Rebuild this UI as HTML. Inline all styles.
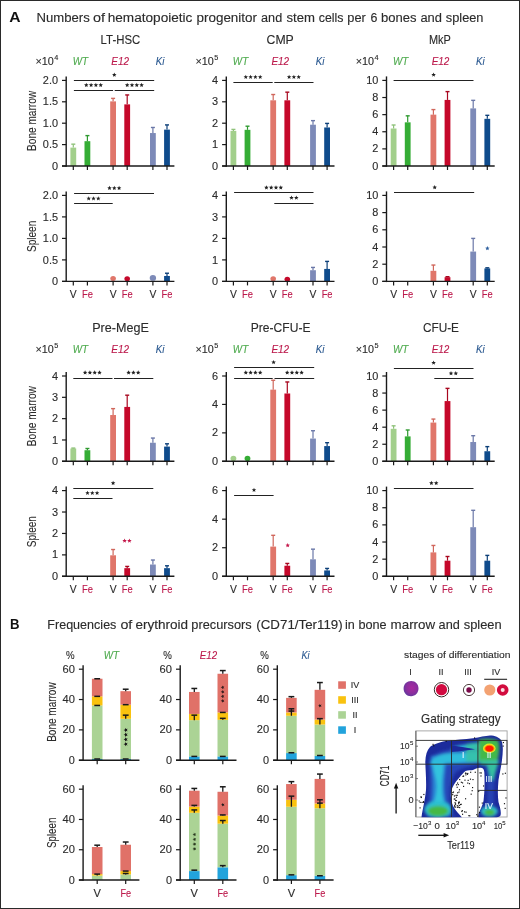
<!DOCTYPE html>
<html><head><meta charset="utf-8"><title>Figure</title>
<style>
html,body{margin:0;padding:0;background:#fff;}
body{width:520px;height:909px;overflow:hidden;font-family:"Liberation Sans",sans-serif;}
svg{display:block;will-change:transform;}
text{font-family:"Liberation Sans",sans-serif;}
</style></head><body>
<svg width="520" height="909" viewBox="0 0 520 909" font-family="&quot;Liberation Sans&quot;, sans-serif">
<rect x="0" y="0" width="520" height="909" fill="#ffffff"/>
<text x="9.20" y="22.00" font-size="14.2" fill="#111" font-weight="bold" textLength="11.30" lengthAdjust="spacingAndGlyphs">A</text>
<text x="36.50" y="21.80" font-size="12.3" fill="#2b2b2b" stroke="#2b2b2b" stroke-width="0.12" textLength="53.20" lengthAdjust="spacingAndGlyphs">Numbers</text>
<text x="93.10" y="21.80" font-size="12.3" fill="#2b2b2b" stroke="#2b2b2b" stroke-width="0.12" textLength="12.00" lengthAdjust="spacingAndGlyphs">of</text>
<text x="107.70" y="21.80" font-size="12.3" fill="#2b2b2b" stroke="#2b2b2b" stroke-width="0.12" textLength="84.70" lengthAdjust="spacingAndGlyphs">hematopoietic</text>
<text x="196.50" y="21.80" font-size="12.3" fill="#2b2b2b" stroke="#2b2b2b" stroke-width="0.12" textLength="60.50" lengthAdjust="spacingAndGlyphs">progenitor</text>
<text x="261.10" y="21.80" font-size="12.3" fill="#2b2b2b" stroke="#2b2b2b" stroke-width="0.12" textLength="21.10" lengthAdjust="spacingAndGlyphs">and</text>
<text x="286.50" y="21.80" font-size="12.3" fill="#2b2b2b" stroke="#2b2b2b" stroke-width="0.12" textLength="28.50" lengthAdjust="spacingAndGlyphs">stem</text>
<text x="318.80" y="21.80" font-size="12.3" fill="#2b2b2b" stroke="#2b2b2b" stroke-width="0.12" textLength="24.70" lengthAdjust="spacingAndGlyphs">cells</text>
<text x="347.30" y="21.80" font-size="12.3" fill="#2b2b2b" stroke="#2b2b2b" stroke-width="0.12" textLength="18.50" lengthAdjust="spacingAndGlyphs">per</text>
<text x="370.40" y="21.80" font-size="12.3" fill="#2b2b2b" stroke="#2b2b2b" stroke-width="0.12" textLength="6.90" lengthAdjust="spacingAndGlyphs">6</text>
<text x="381.10" y="21.80" font-size="12.3" fill="#2b2b2b" stroke="#2b2b2b" stroke-width="0.12" textLength="35.50" lengthAdjust="spacingAndGlyphs">bones</text>
<text x="420.40" y="21.80" font-size="12.3" fill="#2b2b2b" stroke="#2b2b2b" stroke-width="0.12" textLength="21.50" lengthAdjust="spacingAndGlyphs">and</text>
<text x="445.80" y="21.80" font-size="12.3" fill="#2b2b2b" stroke="#2b2b2b" stroke-width="0.12" textLength="37.70" lengthAdjust="spacingAndGlyphs">spleen</text>
<text x="100.60" y="43.90" font-size="12.2" fill="#2b2b2b" stroke="#2b2b2b" stroke-width="0.12" textLength="39.60" lengthAdjust="spacingAndGlyphs">LT-HSC</text>
<text x="35.40" y="64.50" font-size="10.8" fill="#2b2b2b" stroke="#2b2b2b" stroke-width="0.12" textLength="18.30" lengthAdjust="spacingAndGlyphs">&#215;10</text>
<text x="54.20" y="59.80" font-size="7.3" fill="#2b2b2b" stroke="#2b2b2b" stroke-width="0.12">4</text>
<text x="80.40" y="64.50" font-size="10.3" fill="#4fab4f" stroke="#4fab4f" stroke-width="0.12" text-anchor="middle" font-style="italic" textLength="15.30" lengthAdjust="spacingAndGlyphs">WT</text>
<text x="120.20" y="64.50" font-size="10.3" fill="#bc1a4c" stroke="#bc1a4c" stroke-width="0.12" text-anchor="middle" font-style="italic" textLength="17.70" lengthAdjust="spacingAndGlyphs">E12</text>
<text x="160.00" y="64.50" font-size="10.3" fill="#2a5890" stroke="#2a5890" stroke-width="0.12" text-anchor="middle" font-style="italic" textLength="8.60" lengthAdjust="spacingAndGlyphs">Ki</text>
<rect x="70.40" y="147.60" width="5.80" height="18.40" fill="#a2cf8b"/>
<line x1="73.30" y1="147.60" x2="73.30" y2="144.17" stroke="#8fc27a" stroke-width="1.2"/>
<line x1="71.30" y1="144.17" x2="75.30" y2="144.17" stroke="#8fc27a" stroke-width="1.4"/>
<rect x="84.50" y="141.18" width="5.80" height="24.82" fill="#35ad35"/>
<line x1="87.40" y1="141.18" x2="87.40" y2="135.61" stroke="#2f9a30" stroke-width="1.2"/>
<line x1="85.40" y1="135.61" x2="89.40" y2="135.61" stroke="#2f9a30" stroke-width="1.4"/>
<rect x="110.20" y="101.37" width="5.80" height="64.63" fill="#e0766a"/>
<line x1="113.10" y1="101.37" x2="113.10" y2="98.38" stroke="#d0675c" stroke-width="1.2"/>
<line x1="111.10" y1="98.38" x2="115.10" y2="98.38" stroke="#d0675c" stroke-width="1.4"/>
<rect x="124.30" y="104.37" width="5.80" height="61.63" fill="#c5082a"/>
<line x1="127.20" y1="104.37" x2="127.20" y2="94.95" stroke="#a8071f" stroke-width="1.2"/>
<line x1="125.20" y1="94.95" x2="129.20" y2="94.95" stroke="#a8071f" stroke-width="1.4"/>
<rect x="150.00" y="133.04" width="5.80" height="32.96" fill="#7d8ab8"/>
<line x1="152.90" y1="133.04" x2="152.90" y2="127.48" stroke="#6b78a8" stroke-width="1.2"/>
<line x1="150.90" y1="127.48" x2="154.90" y2="127.48" stroke="#6b78a8" stroke-width="1.4"/>
<rect x="164.10" y="129.62" width="5.80" height="36.38" fill="#0f4b8c"/>
<line x1="167.00" y1="129.62" x2="167.00" y2="124.91" stroke="#0c3f78" stroke-width="1.2"/>
<line x1="165.00" y1="124.91" x2="169.00" y2="124.91" stroke="#0c3f78" stroke-width="1.4"/>
<line x1="66.20" y1="76.40" x2="66.20" y2="166.70" stroke="#1a1a1a" stroke-width="1.4"/>
<line x1="62.00" y1="166.00" x2="174.40" y2="166.00" stroke="#1a1a1a" stroke-width="1.4"/>
<line x1="73.30" y1="166.00" x2="73.30" y2="170.00" stroke="#1a1a1a" stroke-width="1.2"/>
<line x1="87.40" y1="166.00" x2="87.40" y2="170.00" stroke="#1a1a1a" stroke-width="1.2"/>
<line x1="113.10" y1="166.00" x2="113.10" y2="170.00" stroke="#1a1a1a" stroke-width="1.2"/>
<line x1="127.20" y1="166.00" x2="127.20" y2="170.00" stroke="#1a1a1a" stroke-width="1.2"/>
<line x1="152.90" y1="166.00" x2="152.90" y2="170.00" stroke="#1a1a1a" stroke-width="1.2"/>
<line x1="167.00" y1="166.00" x2="167.00" y2="170.00" stroke="#1a1a1a" stroke-width="1.2"/>
<line x1="62.00" y1="166.00" x2="66.20" y2="166.00" stroke="#1a1a1a" stroke-width="1.2"/>
<text x="58.00" y="169.60" font-size="10.9" fill="#2b2b2b" stroke="#2b2b2b" stroke-width="0.12" text-anchor="end">0</text>
<line x1="62.00" y1="144.60" x2="66.20" y2="144.60" stroke="#1a1a1a" stroke-width="1.2"/>
<text x="58.00" y="148.20" font-size="10.9" fill="#2b2b2b" stroke="#2b2b2b" stroke-width="0.12" text-anchor="end">0.5</text>
<line x1="62.00" y1="123.20" x2="66.20" y2="123.20" stroke="#1a1a1a" stroke-width="1.2"/>
<text x="58.00" y="126.80" font-size="10.9" fill="#2b2b2b" stroke="#2b2b2b" stroke-width="0.12" text-anchor="end">1.0</text>
<line x1="62.00" y1="101.80" x2="66.20" y2="101.80" stroke="#1a1a1a" stroke-width="1.2"/>
<text x="58.00" y="105.40" font-size="10.9" fill="#2b2b2b" stroke="#2b2b2b" stroke-width="0.12" text-anchor="end">1.5</text>
<line x1="62.00" y1="80.40" x2="66.20" y2="80.40" stroke="#1a1a1a" stroke-width="1.2"/>
<text x="58.00" y="84.00" font-size="10.9" fill="#2b2b2b" stroke="#2b2b2b" stroke-width="0.12" text-anchor="end">2.0</text>
<line x1="73.90" y1="80.50" x2="154.20" y2="80.50" stroke="#222" stroke-width="1.0"/>
<polygon points="114.30,72.55 114.92,74.04 116.53,74.17 115.31,75.23 115.68,76.80 114.30,75.96 112.92,76.80 113.29,75.23 112.07,74.17 113.68,74.04" fill="#222"/>
<line x1="73.90" y1="90.50" x2="113.10" y2="90.50" stroke="#222" stroke-width="1.0"/>
<polygon points="86.30,82.75 86.92,84.24 88.53,84.37 87.31,85.43 87.68,87.00 86.30,86.16 84.92,87.00 85.29,85.43 84.07,84.37 85.68,84.24" fill="#222"/>
<polygon points="91.10,82.75 91.72,84.24 93.33,84.37 92.11,85.43 92.48,87.00 91.10,86.16 89.72,87.00 90.09,85.43 88.87,84.37 90.48,84.24" fill="#222"/>
<polygon points="95.90,82.75 96.52,84.24 98.13,84.37 96.91,85.43 97.28,87.00 95.90,86.16 94.52,87.00 94.89,85.43 93.67,84.37 95.28,84.24" fill="#222"/>
<polygon points="100.70,82.75 101.32,84.24 102.93,84.37 101.71,85.43 102.08,87.00 100.70,86.16 99.32,87.00 99.69,85.43 98.47,84.37 100.08,84.24" fill="#222"/>
<line x1="114.70" y1="90.50" x2="154.20" y2="90.50" stroke="#222" stroke-width="1.0"/>
<polygon points="127.20,82.75 127.82,84.24 129.43,84.37 128.21,85.43 128.58,87.00 127.20,86.16 125.82,87.00 126.19,85.43 124.97,84.37 126.58,84.24" fill="#222"/>
<polygon points="132.00,82.75 132.62,84.24 134.23,84.37 133.01,85.43 133.38,87.00 132.00,86.16 130.62,87.00 130.99,85.43 129.77,84.37 131.38,84.24" fill="#222"/>
<polygon points="136.80,82.75 137.42,84.24 139.03,84.37 137.81,85.43 138.18,87.00 136.80,86.16 135.42,87.00 135.79,85.43 134.57,84.37 136.18,84.24" fill="#222"/>
<polygon points="141.60,82.75 142.22,84.24 143.83,84.37 142.61,85.43 142.98,87.00 141.60,86.16 140.22,87.00 140.59,85.43 139.37,84.37 140.98,84.24" fill="#222"/>
<ellipse cx="113.10" cy="278.56" rx="2.80" ry="2.50" fill="#e0766a"/>
<ellipse cx="127.20" cy="278.82" rx="2.80" ry="2.50" fill="#c5082a"/>
<ellipse cx="152.90" cy="277.96" rx="3.20" ry="2.90" fill="#7d8ab8"/>
<rect x="164.10" y="275.98" width="5.80" height="5.42" fill="#0f4b8c"/>
<line x1="167.00" y1="275.98" x2="167.00" y2="273.23" stroke="#0c3f78" stroke-width="1.2"/>
<line x1="165.00" y1="273.23" x2="169.00" y2="273.23" stroke="#0c3f78" stroke-width="1.4"/>
<line x1="66.20" y1="191.40" x2="66.20" y2="282.10" stroke="#1a1a1a" stroke-width="1.4"/>
<line x1="62.00" y1="281.40" x2="174.40" y2="281.40" stroke="#1a1a1a" stroke-width="1.4"/>
<line x1="73.30" y1="281.40" x2="73.30" y2="285.40" stroke="#1a1a1a" stroke-width="1.2"/>
<line x1="87.40" y1="281.40" x2="87.40" y2="285.40" stroke="#1a1a1a" stroke-width="1.2"/>
<line x1="113.10" y1="281.40" x2="113.10" y2="285.40" stroke="#1a1a1a" stroke-width="1.2"/>
<line x1="127.20" y1="281.40" x2="127.20" y2="285.40" stroke="#1a1a1a" stroke-width="1.2"/>
<line x1="152.90" y1="281.40" x2="152.90" y2="285.40" stroke="#1a1a1a" stroke-width="1.2"/>
<line x1="167.00" y1="281.40" x2="167.00" y2="285.40" stroke="#1a1a1a" stroke-width="1.2"/>
<line x1="62.00" y1="281.40" x2="66.20" y2="281.40" stroke="#1a1a1a" stroke-width="1.2"/>
<text x="58.00" y="285.00" font-size="10.9" fill="#2b2b2b" stroke="#2b2b2b" stroke-width="0.12" text-anchor="end">0</text>
<line x1="62.00" y1="259.90" x2="66.20" y2="259.90" stroke="#1a1a1a" stroke-width="1.2"/>
<text x="58.00" y="263.50" font-size="10.9" fill="#2b2b2b" stroke="#2b2b2b" stroke-width="0.12" text-anchor="end">0.5</text>
<line x1="62.00" y1="238.40" x2="66.20" y2="238.40" stroke="#1a1a1a" stroke-width="1.2"/>
<text x="58.00" y="242.00" font-size="10.9" fill="#2b2b2b" stroke="#2b2b2b" stroke-width="0.12" text-anchor="end">1.0</text>
<line x1="62.00" y1="216.90" x2="66.20" y2="216.90" stroke="#1a1a1a" stroke-width="1.2"/>
<text x="58.00" y="220.50" font-size="10.9" fill="#2b2b2b" stroke="#2b2b2b" stroke-width="0.12" text-anchor="end">1.5</text>
<line x1="62.00" y1="195.40" x2="66.20" y2="195.40" stroke="#1a1a1a" stroke-width="1.2"/>
<text x="58.00" y="199.00" font-size="10.9" fill="#2b2b2b" stroke="#2b2b2b" stroke-width="0.12" text-anchor="end">2.0</text>
<line x1="74.10" y1="193.50" x2="154.00" y2="193.50" stroke="#222" stroke-width="1.0"/>
<polygon points="109.50,185.85 110.12,187.34 111.73,187.47 110.51,188.53 110.88,190.10 109.50,189.26 108.12,190.10 108.49,188.53 107.27,187.47 108.88,187.34" fill="#222"/>
<polygon points="114.30,185.85 114.92,187.34 116.53,187.47 115.31,188.53 115.68,190.10 114.30,189.26 112.92,190.10 113.29,188.53 112.07,187.47 113.68,187.34" fill="#222"/>
<polygon points="119.10,185.85 119.72,187.34 121.33,187.47 120.11,188.53 120.48,190.10 119.10,189.26 117.72,190.10 118.09,188.53 116.87,187.47 118.48,187.34" fill="#222"/>
<line x1="74.10" y1="203.50" x2="112.70" y2="203.50" stroke="#222" stroke-width="1.0"/>
<polygon points="88.70,196.15 89.32,197.64 90.93,197.77 89.71,198.83 90.08,200.40 88.70,199.56 87.32,200.40 87.69,198.83 86.47,197.77 88.08,197.64" fill="#222"/>
<polygon points="93.50,196.15 94.12,197.64 95.73,197.77 94.51,198.83 94.88,200.40 93.50,199.56 92.12,200.40 92.49,198.83 91.27,197.77 92.88,197.64" fill="#222"/>
<polygon points="98.30,196.15 98.92,197.64 100.53,197.77 99.31,198.83 99.68,200.40 98.30,199.56 96.92,200.40 97.29,198.83 96.07,197.77 97.68,197.64" fill="#222"/>
<text x="73.30" y="297.80" font-size="10.6" fill="#2b2b2b" stroke="#2b2b2b" stroke-width="0.12" text-anchor="middle" textLength="6.90" lengthAdjust="spacingAndGlyphs">V</text>
<text x="87.40" y="297.80" font-size="10.6" fill="#bc1a4c" stroke="#bc1a4c" stroke-width="0.12" text-anchor="middle" textLength="10.90" lengthAdjust="spacingAndGlyphs">Fe</text>
<text x="113.10" y="297.80" font-size="10.6" fill="#2b2b2b" stroke="#2b2b2b" stroke-width="0.12" text-anchor="middle" textLength="6.90" lengthAdjust="spacingAndGlyphs">V</text>
<text x="127.20" y="297.80" font-size="10.6" fill="#bc1a4c" stroke="#bc1a4c" stroke-width="0.12" text-anchor="middle" textLength="10.90" lengthAdjust="spacingAndGlyphs">Fe</text>
<text x="152.90" y="297.80" font-size="10.6" fill="#2b2b2b" stroke="#2b2b2b" stroke-width="0.12" text-anchor="middle" textLength="6.90" lengthAdjust="spacingAndGlyphs">V</text>
<text x="167.00" y="297.80" font-size="10.6" fill="#bc1a4c" stroke="#bc1a4c" stroke-width="0.12" text-anchor="middle" textLength="10.90" lengthAdjust="spacingAndGlyphs">Fe</text>
<text x="266.60" y="44.20" font-size="12.2" fill="#2b2b2b" stroke="#2b2b2b" stroke-width="0.12" textLength="27.20" lengthAdjust="spacingAndGlyphs">CMP</text>
<text x="195.50" y="64.50" font-size="10.8" fill="#2b2b2b" stroke="#2b2b2b" stroke-width="0.12" textLength="18.30" lengthAdjust="spacingAndGlyphs">&#215;10</text>
<text x="214.30" y="59.80" font-size="7.3" fill="#2b2b2b" stroke="#2b2b2b" stroke-width="0.12">5</text>
<text x="240.50" y="64.50" font-size="10.3" fill="#4fab4f" stroke="#4fab4f" stroke-width="0.12" text-anchor="middle" font-style="italic" textLength="15.30" lengthAdjust="spacingAndGlyphs">WT</text>
<text x="280.30" y="64.50" font-size="10.3" fill="#bc1a4c" stroke="#bc1a4c" stroke-width="0.12" text-anchor="middle" font-style="italic" textLength="17.70" lengthAdjust="spacingAndGlyphs">E12</text>
<text x="320.10" y="64.50" font-size="10.3" fill="#2a5890" stroke="#2a5890" stroke-width="0.12" text-anchor="middle" font-style="italic" textLength="8.60" lengthAdjust="spacingAndGlyphs">Ki</text>
<rect x="230.50" y="130.90" width="5.80" height="35.10" fill="#a2cf8b"/>
<line x1="233.40" y1="130.90" x2="233.40" y2="129.41" stroke="#8fc27a" stroke-width="1.2"/>
<line x1="231.40" y1="129.41" x2="235.40" y2="129.41" stroke="#8fc27a" stroke-width="1.4"/>
<rect x="244.60" y="129.83" width="5.80" height="36.17" fill="#35ad35"/>
<line x1="247.50" y1="129.83" x2="247.50" y2="126.20" stroke="#2f9a30" stroke-width="1.2"/>
<line x1="245.50" y1="126.20" x2="249.50" y2="126.20" stroke="#2f9a30" stroke-width="1.4"/>
<rect x="270.30" y="100.30" width="5.80" height="65.70" fill="#e0766a"/>
<line x1="273.20" y1="100.30" x2="273.20" y2="94.52" stroke="#d0675c" stroke-width="1.2"/>
<line x1="271.20" y1="94.52" x2="275.20" y2="94.52" stroke="#d0675c" stroke-width="1.4"/>
<rect x="284.40" y="100.30" width="5.80" height="65.70" fill="#c5082a"/>
<line x1="287.30" y1="100.30" x2="287.30" y2="92.17" stroke="#a8071f" stroke-width="1.2"/>
<line x1="285.30" y1="92.17" x2="289.30" y2="92.17" stroke="#a8071f" stroke-width="1.4"/>
<rect x="310.10" y="124.70" width="5.80" height="41.30" fill="#7d8ab8"/>
<line x1="313.00" y1="124.70" x2="313.00" y2="120.63" stroke="#6b78a8" stroke-width="1.2"/>
<line x1="311.00" y1="120.63" x2="315.00" y2="120.63" stroke="#6b78a8" stroke-width="1.4"/>
<rect x="324.20" y="127.48" width="5.80" height="38.52" fill="#0f4b8c"/>
<line x1="327.10" y1="127.48" x2="327.10" y2="123.41" stroke="#0c3f78" stroke-width="1.2"/>
<line x1="325.10" y1="123.41" x2="329.10" y2="123.41" stroke="#0c3f78" stroke-width="1.4"/>
<line x1="226.30" y1="76.40" x2="226.30" y2="166.70" stroke="#1a1a1a" stroke-width="1.4"/>
<line x1="222.10" y1="166.00" x2="334.50" y2="166.00" stroke="#1a1a1a" stroke-width="1.4"/>
<line x1="233.40" y1="166.00" x2="233.40" y2="170.00" stroke="#1a1a1a" stroke-width="1.2"/>
<line x1="247.50" y1="166.00" x2="247.50" y2="170.00" stroke="#1a1a1a" stroke-width="1.2"/>
<line x1="273.20" y1="166.00" x2="273.20" y2="170.00" stroke="#1a1a1a" stroke-width="1.2"/>
<line x1="287.30" y1="166.00" x2="287.30" y2="170.00" stroke="#1a1a1a" stroke-width="1.2"/>
<line x1="313.00" y1="166.00" x2="313.00" y2="170.00" stroke="#1a1a1a" stroke-width="1.2"/>
<line x1="327.10" y1="166.00" x2="327.10" y2="170.00" stroke="#1a1a1a" stroke-width="1.2"/>
<line x1="222.10" y1="166.00" x2="226.30" y2="166.00" stroke="#1a1a1a" stroke-width="1.2"/>
<text x="218.10" y="169.60" font-size="10.9" fill="#2b2b2b" stroke="#2b2b2b" stroke-width="0.12" text-anchor="end">0</text>
<line x1="222.10" y1="144.60" x2="226.30" y2="144.60" stroke="#1a1a1a" stroke-width="1.2"/>
<text x="218.10" y="148.20" font-size="10.9" fill="#2b2b2b" stroke="#2b2b2b" stroke-width="0.12" text-anchor="end">1</text>
<line x1="222.10" y1="123.20" x2="226.30" y2="123.20" stroke="#1a1a1a" stroke-width="1.2"/>
<text x="218.10" y="126.80" font-size="10.9" fill="#2b2b2b" stroke="#2b2b2b" stroke-width="0.12" text-anchor="end">2</text>
<line x1="222.10" y1="101.80" x2="226.30" y2="101.80" stroke="#1a1a1a" stroke-width="1.2"/>
<text x="218.10" y="105.40" font-size="10.9" fill="#2b2b2b" stroke="#2b2b2b" stroke-width="0.12" text-anchor="end">3</text>
<line x1="222.10" y1="80.40" x2="226.30" y2="80.40" stroke="#1a1a1a" stroke-width="1.2"/>
<text x="218.10" y="84.00" font-size="10.9" fill="#2b2b2b" stroke="#2b2b2b" stroke-width="0.12" text-anchor="end">4</text>
<line x1="233.40" y1="82.50" x2="272.70" y2="82.50" stroke="#222" stroke-width="1.0"/>
<polygon points="245.80,74.65 246.42,76.14 248.03,76.27 246.81,77.33 247.18,78.90 245.80,78.06 244.42,78.90 244.79,77.33 243.57,76.27 245.18,76.14" fill="#222"/>
<polygon points="250.60,74.65 251.22,76.14 252.83,76.27 251.61,77.33 251.98,78.90 250.60,78.06 249.22,78.90 249.59,77.33 248.37,76.27 249.98,76.14" fill="#222"/>
<polygon points="255.40,74.65 256.02,76.14 257.63,76.27 256.41,77.33 256.78,78.90 255.40,78.06 254.02,78.90 254.39,77.33 253.17,76.27 254.78,76.14" fill="#222"/>
<polygon points="260.20,74.65 260.82,76.14 262.43,76.27 261.21,77.33 261.58,78.90 260.20,78.06 258.82,78.90 259.19,77.33 257.97,76.27 259.58,76.14" fill="#222"/>
<line x1="274.30" y1="82.50" x2="313.50" y2="82.50" stroke="#222" stroke-width="1.0"/>
<polygon points="289.10,74.65 289.72,76.14 291.33,76.27 290.11,77.33 290.48,78.90 289.10,78.06 287.72,78.90 288.09,77.33 286.87,76.27 288.48,76.14" fill="#222"/>
<polygon points="293.90,74.65 294.52,76.14 296.13,76.27 294.91,77.33 295.28,78.90 293.90,78.06 292.52,78.90 292.89,77.33 291.67,76.27 293.28,76.14" fill="#222"/>
<polygon points="298.70,74.65 299.32,76.14 300.93,76.27 299.71,77.33 300.08,78.90 298.70,78.06 297.32,78.90 297.69,77.33 296.47,76.27 298.08,76.14" fill="#222"/>
<ellipse cx="273.20" cy="278.82" rx="2.80" ry="2.50" fill="#e0766a"/>
<ellipse cx="287.30" cy="279.25" rx="2.80" ry="2.50" fill="#c5082a"/>
<rect x="310.10" y="270.22" width="5.80" height="11.18" fill="#7d8ab8"/>
<line x1="313.00" y1="270.22" x2="313.00" y2="267.42" stroke="#6b78a8" stroke-width="1.2"/>
<line x1="311.00" y1="267.42" x2="315.00" y2="267.42" stroke="#6b78a8" stroke-width="1.4"/>
<rect x="324.20" y="268.93" width="5.80" height="12.47" fill="#0f4b8c"/>
<line x1="327.10" y1="268.93" x2="327.10" y2="261.40" stroke="#0c3f78" stroke-width="1.2"/>
<line x1="325.10" y1="261.40" x2="329.10" y2="261.40" stroke="#0c3f78" stroke-width="1.4"/>
<line x1="226.30" y1="191.40" x2="226.30" y2="282.10" stroke="#1a1a1a" stroke-width="1.4"/>
<line x1="222.10" y1="281.40" x2="334.50" y2="281.40" stroke="#1a1a1a" stroke-width="1.4"/>
<line x1="233.40" y1="281.40" x2="233.40" y2="285.40" stroke="#1a1a1a" stroke-width="1.2"/>
<line x1="247.50" y1="281.40" x2="247.50" y2="285.40" stroke="#1a1a1a" stroke-width="1.2"/>
<line x1="273.20" y1="281.40" x2="273.20" y2="285.40" stroke="#1a1a1a" stroke-width="1.2"/>
<line x1="287.30" y1="281.40" x2="287.30" y2="285.40" stroke="#1a1a1a" stroke-width="1.2"/>
<line x1="313.00" y1="281.40" x2="313.00" y2="285.40" stroke="#1a1a1a" stroke-width="1.2"/>
<line x1="327.10" y1="281.40" x2="327.10" y2="285.40" stroke="#1a1a1a" stroke-width="1.2"/>
<line x1="222.10" y1="281.40" x2="226.30" y2="281.40" stroke="#1a1a1a" stroke-width="1.2"/>
<text x="218.10" y="285.00" font-size="10.9" fill="#2b2b2b" stroke="#2b2b2b" stroke-width="0.12" text-anchor="end">0</text>
<line x1="222.10" y1="259.90" x2="226.30" y2="259.90" stroke="#1a1a1a" stroke-width="1.2"/>
<text x="218.10" y="263.50" font-size="10.9" fill="#2b2b2b" stroke="#2b2b2b" stroke-width="0.12" text-anchor="end">1</text>
<line x1="222.10" y1="238.40" x2="226.30" y2="238.40" stroke="#1a1a1a" stroke-width="1.2"/>
<text x="218.10" y="242.00" font-size="10.9" fill="#2b2b2b" stroke="#2b2b2b" stroke-width="0.12" text-anchor="end">2</text>
<line x1="222.10" y1="216.90" x2="226.30" y2="216.90" stroke="#1a1a1a" stroke-width="1.2"/>
<text x="218.10" y="220.50" font-size="10.9" fill="#2b2b2b" stroke="#2b2b2b" stroke-width="0.12" text-anchor="end">3</text>
<line x1="222.10" y1="195.40" x2="226.30" y2="195.40" stroke="#1a1a1a" stroke-width="1.2"/>
<text x="218.10" y="199.00" font-size="10.9" fill="#2b2b2b" stroke="#2b2b2b" stroke-width="0.12" text-anchor="end">4</text>
<line x1="234.10" y1="192.50" x2="313.50" y2="192.50" stroke="#222" stroke-width="1.0"/>
<polygon points="266.40,185.25 267.02,186.74 268.63,186.87 267.41,187.93 267.78,189.50 266.40,188.66 265.02,189.50 265.39,187.93 264.17,186.87 265.78,186.74" fill="#222"/>
<polygon points="271.20,185.25 271.82,186.74 273.43,186.87 272.21,187.93 272.58,189.50 271.20,188.66 269.82,189.50 270.19,187.93 268.97,186.87 270.58,186.74" fill="#222"/>
<polygon points="276.00,185.25 276.62,186.74 278.23,186.87 277.01,187.93 277.38,189.50 276.00,188.66 274.62,189.50 274.99,187.93 273.77,186.87 275.38,186.74" fill="#222"/>
<polygon points="280.80,185.25 281.42,186.74 283.03,186.87 281.81,187.93 282.18,189.50 280.80,188.66 279.42,189.50 279.79,187.93 278.57,186.87 280.18,186.74" fill="#222"/>
<line x1="274.30" y1="203.50" x2="313.50" y2="203.50" stroke="#222" stroke-width="1.0"/>
<polygon points="291.50,195.45 292.12,196.94 293.73,197.07 292.51,198.13 292.88,199.70 291.50,198.86 290.12,199.70 290.49,198.13 289.27,197.07 290.88,196.94" fill="#222"/>
<polygon points="296.30,195.45 296.92,196.94 298.53,197.07 297.31,198.13 297.68,199.70 296.30,198.86 294.92,199.70 295.29,198.13 294.07,197.07 295.68,196.94" fill="#222"/>
<text x="233.40" y="297.80" font-size="10.6" fill="#2b2b2b" stroke="#2b2b2b" stroke-width="0.12" text-anchor="middle" textLength="6.90" lengthAdjust="spacingAndGlyphs">V</text>
<text x="247.50" y="297.80" font-size="10.6" fill="#bc1a4c" stroke="#bc1a4c" stroke-width="0.12" text-anchor="middle" textLength="10.90" lengthAdjust="spacingAndGlyphs">Fe</text>
<text x="273.20" y="297.80" font-size="10.6" fill="#2b2b2b" stroke="#2b2b2b" stroke-width="0.12" text-anchor="middle" textLength="6.90" lengthAdjust="spacingAndGlyphs">V</text>
<text x="287.30" y="297.80" font-size="10.6" fill="#bc1a4c" stroke="#bc1a4c" stroke-width="0.12" text-anchor="middle" textLength="10.90" lengthAdjust="spacingAndGlyphs">Fe</text>
<text x="313.00" y="297.80" font-size="10.6" fill="#2b2b2b" stroke="#2b2b2b" stroke-width="0.12" text-anchor="middle" textLength="6.90" lengthAdjust="spacingAndGlyphs">V</text>
<text x="327.10" y="297.80" font-size="10.6" fill="#bc1a4c" stroke="#bc1a4c" stroke-width="0.12" text-anchor="middle" textLength="10.90" lengthAdjust="spacingAndGlyphs">Fe</text>
<text x="429.00" y="43.60" font-size="12.2" fill="#2b2b2b" stroke="#2b2b2b" stroke-width="0.12" textLength="21.90" lengthAdjust="spacingAndGlyphs">MkP</text>
<text x="355.70" y="64.50" font-size="10.8" fill="#2b2b2b" stroke="#2b2b2b" stroke-width="0.12" textLength="18.30" lengthAdjust="spacingAndGlyphs">&#215;10</text>
<text x="374.50" y="59.80" font-size="7.3" fill="#2b2b2b" stroke="#2b2b2b" stroke-width="0.12">4</text>
<text x="400.70" y="64.50" font-size="10.3" fill="#4fab4f" stroke="#4fab4f" stroke-width="0.12" text-anchor="middle" font-style="italic" textLength="15.30" lengthAdjust="spacingAndGlyphs">WT</text>
<text x="440.50" y="64.50" font-size="10.3" fill="#bc1a4c" stroke="#bc1a4c" stroke-width="0.12" text-anchor="middle" font-style="italic" textLength="17.70" lengthAdjust="spacingAndGlyphs">E12</text>
<text x="480.30" y="64.50" font-size="10.3" fill="#2a5890" stroke="#2a5890" stroke-width="0.12" text-anchor="middle" font-style="italic" textLength="8.60" lengthAdjust="spacingAndGlyphs">Ki</text>
<rect x="390.70" y="128.51" width="5.80" height="37.49" fill="#a2cf8b"/>
<line x1="393.60" y1="128.51" x2="393.60" y2="125.00" stroke="#8fc27a" stroke-width="1.2"/>
<line x1="391.60" y1="125.00" x2="395.60" y2="125.00" stroke="#8fc27a" stroke-width="1.4"/>
<rect x="404.80" y="122.34" width="5.80" height="43.66" fill="#35ad35"/>
<line x1="407.70" y1="122.34" x2="407.70" y2="115.84" stroke="#2f9a30" stroke-width="1.2"/>
<line x1="405.70" y1="115.84" x2="409.70" y2="115.84" stroke="#2f9a30" stroke-width="1.4"/>
<rect x="430.50" y="114.64" width="5.80" height="51.36" fill="#e0766a"/>
<line x1="433.40" y1="114.64" x2="433.40" y2="109.59" stroke="#d0675c" stroke-width="1.2"/>
<line x1="431.40" y1="109.59" x2="435.40" y2="109.59" stroke="#d0675c" stroke-width="1.4"/>
<rect x="444.60" y="99.92" width="5.80" height="66.08" fill="#c5082a"/>
<line x1="447.50" y1="99.92" x2="447.50" y2="91.61" stroke="#a8071f" stroke-width="1.2"/>
<line x1="445.50" y1="91.61" x2="449.50" y2="91.61" stroke="#a8071f" stroke-width="1.4"/>
<rect x="470.30" y="108.39" width="5.80" height="57.61" fill="#7d8ab8"/>
<line x1="473.20" y1="108.39" x2="473.20" y2="100.34" stroke="#6b78a8" stroke-width="1.2"/>
<line x1="471.20" y1="100.34" x2="475.20" y2="100.34" stroke="#6b78a8" stroke-width="1.4"/>
<rect x="484.40" y="118.83" width="5.80" height="47.17" fill="#0f4b8c"/>
<line x1="487.30" y1="118.83" x2="487.30" y2="115.32" stroke="#0c3f78" stroke-width="1.2"/>
<line x1="485.30" y1="115.32" x2="489.30" y2="115.32" stroke="#0c3f78" stroke-width="1.4"/>
<line x1="386.50" y1="76.40" x2="386.50" y2="166.70" stroke="#1a1a1a" stroke-width="1.4"/>
<line x1="382.30" y1="166.00" x2="494.70" y2="166.00" stroke="#1a1a1a" stroke-width="1.4"/>
<line x1="393.60" y1="166.00" x2="393.60" y2="170.00" stroke="#1a1a1a" stroke-width="1.2"/>
<line x1="407.70" y1="166.00" x2="407.70" y2="170.00" stroke="#1a1a1a" stroke-width="1.2"/>
<line x1="433.40" y1="166.00" x2="433.40" y2="170.00" stroke="#1a1a1a" stroke-width="1.2"/>
<line x1="447.50" y1="166.00" x2="447.50" y2="170.00" stroke="#1a1a1a" stroke-width="1.2"/>
<line x1="473.20" y1="166.00" x2="473.20" y2="170.00" stroke="#1a1a1a" stroke-width="1.2"/>
<line x1="487.30" y1="166.00" x2="487.30" y2="170.00" stroke="#1a1a1a" stroke-width="1.2"/>
<line x1="382.30" y1="166.00" x2="386.50" y2="166.00" stroke="#1a1a1a" stroke-width="1.2"/>
<text x="378.30" y="169.60" font-size="10.9" fill="#2b2b2b" stroke="#2b2b2b" stroke-width="0.12" text-anchor="end">0</text>
<line x1="382.30" y1="148.88" x2="386.50" y2="148.88" stroke="#1a1a1a" stroke-width="1.2"/>
<text x="378.30" y="152.48" font-size="10.9" fill="#2b2b2b" stroke="#2b2b2b" stroke-width="0.12" text-anchor="end">2</text>
<line x1="382.30" y1="131.76" x2="386.50" y2="131.76" stroke="#1a1a1a" stroke-width="1.2"/>
<text x="378.30" y="135.36" font-size="10.9" fill="#2b2b2b" stroke="#2b2b2b" stroke-width="0.12" text-anchor="end">4</text>
<line x1="382.30" y1="114.64" x2="386.50" y2="114.64" stroke="#1a1a1a" stroke-width="1.2"/>
<text x="378.30" y="118.24" font-size="10.9" fill="#2b2b2b" stroke="#2b2b2b" stroke-width="0.12" text-anchor="end">6</text>
<line x1="382.30" y1="97.52" x2="386.50" y2="97.52" stroke="#1a1a1a" stroke-width="1.2"/>
<text x="378.30" y="101.12" font-size="10.9" fill="#2b2b2b" stroke="#2b2b2b" stroke-width="0.12" text-anchor="end">8</text>
<line x1="382.30" y1="80.40" x2="386.50" y2="80.40" stroke="#1a1a1a" stroke-width="1.2"/>
<text x="378.30" y="84.00" font-size="10.9" fill="#2b2b2b" stroke="#2b2b2b" stroke-width="0.12" text-anchor="end">10</text>
<line x1="393.60" y1="80.50" x2="473.50" y2="80.50" stroke="#222" stroke-width="1.0"/>
<polygon points="433.60,72.45 434.22,73.94 435.83,74.07 434.61,75.13 434.98,76.70 433.60,75.86 432.22,76.70 432.59,75.13 431.37,74.07 432.98,73.94" fill="#222"/>
<rect x="430.50" y="270.82" width="5.80" height="10.58" fill="#e0766a"/>
<line x1="433.40" y1="270.82" x2="433.40" y2="265.06" stroke="#d0675c" stroke-width="1.2"/>
<line x1="431.40" y1="265.06" x2="435.40" y2="265.06" stroke="#d0675c" stroke-width="1.4"/>
<rect x="444.60" y="277.19" width="5.80" height="4.21" fill="#c5082a"/>
<line x1="447.50" y1="277.19" x2="447.50" y2="276.67" stroke="#a8071f" stroke-width="1.2"/>
<line x1="445.50" y1="276.67" x2="449.50" y2="276.67" stroke="#a8071f" stroke-width="1.4"/>
<rect x="470.30" y="251.56" width="5.80" height="29.84" fill="#7d8ab8"/>
<line x1="473.20" y1="251.56" x2="473.20" y2="238.40" stroke="#6b78a8" stroke-width="1.2"/>
<line x1="471.20" y1="238.40" x2="475.20" y2="238.40" stroke="#6b78a8" stroke-width="1.4"/>
<rect x="484.40" y="268.41" width="5.80" height="12.99" fill="#0f4b8c"/>
<line x1="487.30" y1="268.41" x2="487.30" y2="267.81" stroke="#0c3f78" stroke-width="1.2"/>
<line x1="485.30" y1="267.81" x2="489.30" y2="267.81" stroke="#0c3f78" stroke-width="1.4"/>
<line x1="386.50" y1="191.40" x2="386.50" y2="282.10" stroke="#1a1a1a" stroke-width="1.4"/>
<line x1="382.30" y1="281.40" x2="494.70" y2="281.40" stroke="#1a1a1a" stroke-width="1.4"/>
<line x1="393.60" y1="281.40" x2="393.60" y2="285.40" stroke="#1a1a1a" stroke-width="1.2"/>
<line x1="407.70" y1="281.40" x2="407.70" y2="285.40" stroke="#1a1a1a" stroke-width="1.2"/>
<line x1="433.40" y1="281.40" x2="433.40" y2="285.40" stroke="#1a1a1a" stroke-width="1.2"/>
<line x1="447.50" y1="281.40" x2="447.50" y2="285.40" stroke="#1a1a1a" stroke-width="1.2"/>
<line x1="473.20" y1="281.40" x2="473.20" y2="285.40" stroke="#1a1a1a" stroke-width="1.2"/>
<line x1="487.30" y1="281.40" x2="487.30" y2="285.40" stroke="#1a1a1a" stroke-width="1.2"/>
<line x1="382.30" y1="281.40" x2="386.50" y2="281.40" stroke="#1a1a1a" stroke-width="1.2"/>
<text x="378.30" y="285.00" font-size="10.9" fill="#2b2b2b" stroke="#2b2b2b" stroke-width="0.12" text-anchor="end">0</text>
<line x1="382.30" y1="264.20" x2="386.50" y2="264.20" stroke="#1a1a1a" stroke-width="1.2"/>
<text x="378.30" y="267.80" font-size="10.9" fill="#2b2b2b" stroke="#2b2b2b" stroke-width="0.12" text-anchor="end">2</text>
<line x1="382.30" y1="247.00" x2="386.50" y2="247.00" stroke="#1a1a1a" stroke-width="1.2"/>
<text x="378.30" y="250.60" font-size="10.9" fill="#2b2b2b" stroke="#2b2b2b" stroke-width="0.12" text-anchor="end">4</text>
<line x1="382.30" y1="229.80" x2="386.50" y2="229.80" stroke="#1a1a1a" stroke-width="1.2"/>
<text x="378.30" y="233.40" font-size="10.9" fill="#2b2b2b" stroke="#2b2b2b" stroke-width="0.12" text-anchor="end">6</text>
<line x1="382.30" y1="212.60" x2="386.50" y2="212.60" stroke="#1a1a1a" stroke-width="1.2"/>
<text x="378.30" y="216.20" font-size="10.9" fill="#2b2b2b" stroke="#2b2b2b" stroke-width="0.12" text-anchor="end">8</text>
<line x1="382.30" y1="195.40" x2="386.50" y2="195.40" stroke="#1a1a1a" stroke-width="1.2"/>
<text x="378.30" y="199.00" font-size="10.9" fill="#2b2b2b" stroke="#2b2b2b" stroke-width="0.12" text-anchor="end">10</text>
<line x1="394.00" y1="192.50" x2="474.20" y2="192.50" stroke="#222" stroke-width="1.0"/>
<polygon points="434.70,185.05 435.32,186.54 436.93,186.67 435.71,187.73 436.08,189.30 434.70,188.46 433.32,189.30 433.69,187.73 432.47,186.67 434.08,186.54" fill="#222"/>
<text x="393.60" y="297.80" font-size="10.6" fill="#2b2b2b" stroke="#2b2b2b" stroke-width="0.12" text-anchor="middle" textLength="6.90" lengthAdjust="spacingAndGlyphs">V</text>
<text x="407.70" y="297.80" font-size="10.6" fill="#bc1a4c" stroke="#bc1a4c" stroke-width="0.12" text-anchor="middle" textLength="10.90" lengthAdjust="spacingAndGlyphs">Fe</text>
<text x="433.40" y="297.80" font-size="10.6" fill="#2b2b2b" stroke="#2b2b2b" stroke-width="0.12" text-anchor="middle" textLength="6.90" lengthAdjust="spacingAndGlyphs">V</text>
<text x="447.50" y="297.80" font-size="10.6" fill="#bc1a4c" stroke="#bc1a4c" stroke-width="0.12" text-anchor="middle" textLength="10.90" lengthAdjust="spacingAndGlyphs">Fe</text>
<text x="473.20" y="297.80" font-size="10.6" fill="#2b2b2b" stroke="#2b2b2b" stroke-width="0.12" text-anchor="middle" textLength="6.90" lengthAdjust="spacingAndGlyphs">V</text>
<text x="487.30" y="297.80" font-size="10.6" fill="#bc1a4c" stroke="#bc1a4c" stroke-width="0.12" text-anchor="middle" textLength="10.90" lengthAdjust="spacingAndGlyphs">Fe</text>
<text x="92.20" y="332.10" font-size="12.2" fill="#2b2b2b" stroke="#2b2b2b" stroke-width="0.12" textLength="56.60" lengthAdjust="spacingAndGlyphs">Pre-MegE</text>
<text x="35.40" y="353.00" font-size="10.8" fill="#2b2b2b" stroke="#2b2b2b" stroke-width="0.12" textLength="18.30" lengthAdjust="spacingAndGlyphs">&#215;10</text>
<text x="54.20" y="348.30" font-size="7.3" fill="#2b2b2b" stroke="#2b2b2b" stroke-width="0.12">5</text>
<text x="80.40" y="353.00" font-size="10.3" fill="#4fab4f" stroke="#4fab4f" stroke-width="0.12" text-anchor="middle" font-style="italic" textLength="15.30" lengthAdjust="spacingAndGlyphs">WT</text>
<text x="120.20" y="353.00" font-size="10.3" fill="#bc1a4c" stroke="#bc1a4c" stroke-width="0.12" text-anchor="middle" font-style="italic" textLength="17.70" lengthAdjust="spacingAndGlyphs">E12</text>
<text x="160.00" y="353.00" font-size="10.3" fill="#2a5890" stroke="#2a5890" stroke-width="0.12" text-anchor="middle" font-style="italic" textLength="8.60" lengthAdjust="spacingAndGlyphs">Ki</text>
<rect x="70.40" y="448.50" width="5.80" height="12.80" fill="#a2cf8b"/>
<line x1="73.30" y1="448.50" x2="73.30" y2="448.08" stroke="#8fc27a" stroke-width="1.2"/>
<line x1="71.30" y1="448.08" x2="75.30" y2="448.08" stroke="#8fc27a" stroke-width="1.4"/>
<rect x="84.50" y="450.21" width="5.80" height="11.09" fill="#35ad35"/>
<line x1="87.40" y1="450.21" x2="87.40" y2="448.50" stroke="#2f9a30" stroke-width="1.2"/>
<line x1="85.40" y1="448.50" x2="89.40" y2="448.50" stroke="#2f9a30" stroke-width="1.4"/>
<rect x="110.20" y="415.02" width="5.80" height="46.28" fill="#e0766a"/>
<line x1="113.10" y1="415.02" x2="113.10" y2="408.63" stroke="#d0675c" stroke-width="1.2"/>
<line x1="111.10" y1="408.63" x2="115.10" y2="408.63" stroke="#d0675c" stroke-width="1.4"/>
<rect x="124.30" y="406.92" width="5.80" height="54.38" fill="#c5082a"/>
<line x1="127.20" y1="406.92" x2="127.20" y2="395.19" stroke="#a8071f" stroke-width="1.2"/>
<line x1="125.20" y1="395.19" x2="129.20" y2="395.19" stroke="#a8071f" stroke-width="1.4"/>
<rect x="150.00" y="442.75" width="5.80" height="18.55" fill="#7d8ab8"/>
<line x1="152.90" y1="442.75" x2="152.90" y2="438.06" stroke="#6b78a8" stroke-width="1.2"/>
<line x1="150.90" y1="438.06" x2="154.90" y2="438.06" stroke="#6b78a8" stroke-width="1.4"/>
<rect x="164.10" y="446.59" width="5.80" height="14.71" fill="#0f4b8c"/>
<line x1="167.00" y1="446.59" x2="167.00" y2="443.81" stroke="#0c3f78" stroke-width="1.2"/>
<line x1="165.00" y1="443.81" x2="169.00" y2="443.81" stroke="#0c3f78" stroke-width="1.4"/>
<line x1="66.20" y1="372.00" x2="66.20" y2="462.00" stroke="#1a1a1a" stroke-width="1.4"/>
<line x1="62.00" y1="461.30" x2="174.40" y2="461.30" stroke="#1a1a1a" stroke-width="1.4"/>
<line x1="73.30" y1="461.30" x2="73.30" y2="465.30" stroke="#1a1a1a" stroke-width="1.2"/>
<line x1="87.40" y1="461.30" x2="87.40" y2="465.30" stroke="#1a1a1a" stroke-width="1.2"/>
<line x1="113.10" y1="461.30" x2="113.10" y2="465.30" stroke="#1a1a1a" stroke-width="1.2"/>
<line x1="127.20" y1="461.30" x2="127.20" y2="465.30" stroke="#1a1a1a" stroke-width="1.2"/>
<line x1="152.90" y1="461.30" x2="152.90" y2="465.30" stroke="#1a1a1a" stroke-width="1.2"/>
<line x1="167.00" y1="461.30" x2="167.00" y2="465.30" stroke="#1a1a1a" stroke-width="1.2"/>
<line x1="62.00" y1="461.30" x2="66.20" y2="461.30" stroke="#1a1a1a" stroke-width="1.2"/>
<text x="58.00" y="464.90" font-size="10.9" fill="#2b2b2b" stroke="#2b2b2b" stroke-width="0.12" text-anchor="end">0</text>
<line x1="62.00" y1="439.98" x2="66.20" y2="439.98" stroke="#1a1a1a" stroke-width="1.2"/>
<text x="58.00" y="443.58" font-size="10.9" fill="#2b2b2b" stroke="#2b2b2b" stroke-width="0.12" text-anchor="end">1</text>
<line x1="62.00" y1="418.65" x2="66.20" y2="418.65" stroke="#1a1a1a" stroke-width="1.2"/>
<text x="58.00" y="422.25" font-size="10.9" fill="#2b2b2b" stroke="#2b2b2b" stroke-width="0.12" text-anchor="end">2</text>
<line x1="62.00" y1="397.32" x2="66.20" y2="397.32" stroke="#1a1a1a" stroke-width="1.2"/>
<text x="58.00" y="400.93" font-size="10.9" fill="#2b2b2b" stroke="#2b2b2b" stroke-width="0.12" text-anchor="end">3</text>
<line x1="62.00" y1="376.00" x2="66.20" y2="376.00" stroke="#1a1a1a" stroke-width="1.2"/>
<text x="58.00" y="379.60" font-size="10.9" fill="#2b2b2b" stroke="#2b2b2b" stroke-width="0.12" text-anchor="end">4</text>
<line x1="73.30" y1="378.50" x2="112.50" y2="378.50" stroke="#222" stroke-width="1.0"/>
<polygon points="85.10,370.35 85.72,371.84 87.33,371.97 86.11,373.03 86.48,374.60 85.10,373.76 83.72,374.60 84.09,373.03 82.87,371.97 84.48,371.84" fill="#222"/>
<polygon points="89.90,370.35 90.52,371.84 92.13,371.97 90.91,373.03 91.28,374.60 89.90,373.76 88.52,374.60 88.89,373.03 87.67,371.97 89.28,371.84" fill="#222"/>
<polygon points="94.70,370.35 95.32,371.84 96.93,371.97 95.71,373.03 96.08,374.60 94.70,373.76 93.32,374.60 93.69,373.03 92.47,371.97 94.08,371.84" fill="#222"/>
<polygon points="99.50,370.35 100.12,371.84 101.73,371.97 100.51,373.03 100.88,374.60 99.50,373.76 98.12,374.60 98.49,373.03 97.27,371.97 98.88,371.84" fill="#222"/>
<line x1="114.00" y1="378.50" x2="153.30" y2="378.50" stroke="#222" stroke-width="1.0"/>
<polygon points="128.60,370.35 129.22,371.84 130.83,371.97 129.61,373.03 129.98,374.60 128.60,373.76 127.22,374.60 127.59,373.03 126.37,371.97 127.98,371.84" fill="#222"/>
<polygon points="133.40,370.35 134.02,371.84 135.63,371.97 134.41,373.03 134.78,374.60 133.40,373.76 132.02,374.60 132.39,373.03 131.17,371.97 132.78,371.84" fill="#222"/>
<polygon points="138.20,370.35 138.82,371.84 140.43,371.97 139.21,373.03 139.58,374.60 138.20,373.76 136.82,374.60 137.19,373.03 135.97,371.97 137.58,371.84" fill="#222"/>
<rect x="110.20" y="555.30" width="5.80" height="21.00" fill="#e0766a"/>
<line x1="113.10" y1="555.30" x2="113.10" y2="549.52" stroke="#d0675c" stroke-width="1.2"/>
<line x1="111.10" y1="549.52" x2="115.10" y2="549.52" stroke="#d0675c" stroke-width="1.4"/>
<rect x="124.30" y="568.16" width="5.80" height="8.14" fill="#c5082a"/>
<line x1="127.20" y1="568.16" x2="127.20" y2="566.44" stroke="#a8071f" stroke-width="1.2"/>
<line x1="125.20" y1="566.44" x2="129.20" y2="566.44" stroke="#a8071f" stroke-width="1.4"/>
<rect x="150.00" y="564.52" width="5.80" height="11.78" fill="#7d8ab8"/>
<line x1="152.90" y1="564.52" x2="152.90" y2="560.02" stroke="#6b78a8" stroke-width="1.2"/>
<line x1="150.90" y1="560.02" x2="154.90" y2="560.02" stroke="#6b78a8" stroke-width="1.4"/>
<rect x="164.10" y="568.16" width="5.80" height="8.14" fill="#0f4b8c"/>
<line x1="167.00" y1="568.16" x2="167.00" y2="565.80" stroke="#0c3f78" stroke-width="1.2"/>
<line x1="165.00" y1="565.80" x2="169.00" y2="565.80" stroke="#0c3f78" stroke-width="1.4"/>
<line x1="66.20" y1="486.60" x2="66.20" y2="577.00" stroke="#1a1a1a" stroke-width="1.4"/>
<line x1="62.00" y1="576.30" x2="174.40" y2="576.30" stroke="#1a1a1a" stroke-width="1.4"/>
<line x1="73.30" y1="576.30" x2="73.30" y2="580.30" stroke="#1a1a1a" stroke-width="1.2"/>
<line x1="87.40" y1="576.30" x2="87.40" y2="580.30" stroke="#1a1a1a" stroke-width="1.2"/>
<line x1="113.10" y1="576.30" x2="113.10" y2="580.30" stroke="#1a1a1a" stroke-width="1.2"/>
<line x1="127.20" y1="576.30" x2="127.20" y2="580.30" stroke="#1a1a1a" stroke-width="1.2"/>
<line x1="152.90" y1="576.30" x2="152.90" y2="580.30" stroke="#1a1a1a" stroke-width="1.2"/>
<line x1="167.00" y1="576.30" x2="167.00" y2="580.30" stroke="#1a1a1a" stroke-width="1.2"/>
<line x1="62.00" y1="576.30" x2="66.20" y2="576.30" stroke="#1a1a1a" stroke-width="1.2"/>
<text x="58.00" y="579.90" font-size="10.9" fill="#2b2b2b" stroke="#2b2b2b" stroke-width="0.12" text-anchor="end">0</text>
<line x1="62.00" y1="554.88" x2="66.20" y2="554.88" stroke="#1a1a1a" stroke-width="1.2"/>
<text x="58.00" y="558.48" font-size="10.9" fill="#2b2b2b" stroke="#2b2b2b" stroke-width="0.12" text-anchor="end">1</text>
<line x1="62.00" y1="533.45" x2="66.20" y2="533.45" stroke="#1a1a1a" stroke-width="1.2"/>
<text x="58.00" y="537.05" font-size="10.9" fill="#2b2b2b" stroke="#2b2b2b" stroke-width="0.12" text-anchor="end">2</text>
<line x1="62.00" y1="512.02" x2="66.20" y2="512.02" stroke="#1a1a1a" stroke-width="1.2"/>
<text x="58.00" y="515.62" font-size="10.9" fill="#2b2b2b" stroke="#2b2b2b" stroke-width="0.12" text-anchor="end">3</text>
<line x1="62.00" y1="490.60" x2="66.20" y2="490.60" stroke="#1a1a1a" stroke-width="1.2"/>
<text x="58.00" y="494.20" font-size="10.9" fill="#2b2b2b" stroke="#2b2b2b" stroke-width="0.12" text-anchor="end">4</text>
<line x1="73.30" y1="488.50" x2="153.30" y2="488.50" stroke="#222" stroke-width="1.0"/>
<polygon points="113.10,480.75 113.72,482.24 115.33,482.37 114.11,483.43 114.48,485.00 113.10,484.16 111.72,485.00 112.09,483.43 110.87,482.37 112.48,482.24" fill="#222"/>
<line x1="73.30" y1="498.50" x2="112.50" y2="498.50" stroke="#222" stroke-width="1.0"/>
<polygon points="87.50,490.65 88.12,492.14 89.73,492.27 88.51,493.33 88.88,494.90 87.50,494.06 86.12,494.90 86.49,493.33 85.27,492.27 86.88,492.14" fill="#222"/>
<polygon points="92.30,490.65 92.92,492.14 94.53,492.27 93.31,493.33 93.68,494.90 92.30,494.06 90.92,494.90 91.29,493.33 90.07,492.27 91.68,492.14" fill="#222"/>
<polygon points="97.10,490.65 97.72,492.14 99.33,492.27 98.11,493.33 98.48,494.90 97.10,494.06 95.72,494.90 96.09,493.33 94.87,492.27 96.48,492.14" fill="#222"/>
<text x="73.30" y="592.70" font-size="10.6" fill="#2b2b2b" stroke="#2b2b2b" stroke-width="0.12" text-anchor="middle" textLength="6.90" lengthAdjust="spacingAndGlyphs">V</text>
<text x="87.40" y="592.70" font-size="10.6" fill="#bc1a4c" stroke="#bc1a4c" stroke-width="0.12" text-anchor="middle" textLength="10.90" lengthAdjust="spacingAndGlyphs">Fe</text>
<text x="113.10" y="592.70" font-size="10.6" fill="#2b2b2b" stroke="#2b2b2b" stroke-width="0.12" text-anchor="middle" textLength="6.90" lengthAdjust="spacingAndGlyphs">V</text>
<text x="127.20" y="592.70" font-size="10.6" fill="#bc1a4c" stroke="#bc1a4c" stroke-width="0.12" text-anchor="middle" textLength="10.90" lengthAdjust="spacingAndGlyphs">Fe</text>
<text x="152.90" y="592.70" font-size="10.6" fill="#2b2b2b" stroke="#2b2b2b" stroke-width="0.12" text-anchor="middle" textLength="6.90" lengthAdjust="spacingAndGlyphs">V</text>
<text x="167.00" y="592.70" font-size="10.6" fill="#bc1a4c" stroke="#bc1a4c" stroke-width="0.12" text-anchor="middle" textLength="10.90" lengthAdjust="spacingAndGlyphs">Fe</text>
<text x="250.80" y="331.80" font-size="12.2" fill="#2b2b2b" stroke="#2b2b2b" stroke-width="0.12" textLength="59.70" lengthAdjust="spacingAndGlyphs">Pre-CFU-E</text>
<text x="195.50" y="353.00" font-size="10.8" fill="#2b2b2b" stroke="#2b2b2b" stroke-width="0.12" textLength="18.30" lengthAdjust="spacingAndGlyphs">&#215;10</text>
<text x="214.30" y="348.30" font-size="7.3" fill="#2b2b2b" stroke="#2b2b2b" stroke-width="0.12">5</text>
<text x="240.50" y="353.00" font-size="10.3" fill="#4fab4f" stroke="#4fab4f" stroke-width="0.12" text-anchor="middle" font-style="italic" textLength="15.30" lengthAdjust="spacingAndGlyphs">WT</text>
<text x="280.30" y="353.00" font-size="10.3" fill="#bc1a4c" stroke="#bc1a4c" stroke-width="0.12" text-anchor="middle" font-style="italic" textLength="17.70" lengthAdjust="spacingAndGlyphs">E12</text>
<text x="320.10" y="353.00" font-size="10.3" fill="#2a5890" stroke="#2a5890" stroke-width="0.12" text-anchor="middle" font-style="italic" textLength="8.60" lengthAdjust="spacingAndGlyphs">Ki</text>
<ellipse cx="233.40" cy="458.46" rx="2.90" ry="2.60" fill="#a2cf8b"/>
<ellipse cx="247.50" cy="458.46" rx="2.90" ry="2.60" fill="#35ad35"/>
<rect x="270.30" y="389.65" width="5.80" height="71.65" fill="#e0766a"/>
<line x1="273.20" y1="389.65" x2="273.20" y2="380.26" stroke="#d0675c" stroke-width="1.2"/>
<line x1="271.20" y1="380.26" x2="275.20" y2="380.26" stroke="#d0675c" stroke-width="1.4"/>
<rect x="284.40" y="393.49" width="5.80" height="67.81" fill="#c5082a"/>
<line x1="287.30" y1="393.49" x2="287.30" y2="381.97" stroke="#a8071f" stroke-width="1.2"/>
<line x1="285.30" y1="381.97" x2="289.30" y2="381.97" stroke="#a8071f" stroke-width="1.4"/>
<rect x="310.10" y="438.55" width="5.80" height="22.75" fill="#7d8ab8"/>
<line x1="313.00" y1="438.55" x2="313.00" y2="430.73" stroke="#6b78a8" stroke-width="1.2"/>
<line x1="311.00" y1="430.73" x2="315.00" y2="430.73" stroke="#6b78a8" stroke-width="1.4"/>
<rect x="324.20" y="446.09" width="5.80" height="15.21" fill="#0f4b8c"/>
<line x1="327.10" y1="446.09" x2="327.10" y2="442.68" stroke="#0c3f78" stroke-width="1.2"/>
<line x1="325.10" y1="442.68" x2="329.10" y2="442.68" stroke="#0c3f78" stroke-width="1.4"/>
<line x1="226.30" y1="372.00" x2="226.30" y2="462.00" stroke="#1a1a1a" stroke-width="1.4"/>
<line x1="222.10" y1="461.30" x2="334.50" y2="461.30" stroke="#1a1a1a" stroke-width="1.4"/>
<line x1="233.40" y1="461.30" x2="233.40" y2="465.30" stroke="#1a1a1a" stroke-width="1.2"/>
<line x1="247.50" y1="461.30" x2="247.50" y2="465.30" stroke="#1a1a1a" stroke-width="1.2"/>
<line x1="273.20" y1="461.30" x2="273.20" y2="465.30" stroke="#1a1a1a" stroke-width="1.2"/>
<line x1="287.30" y1="461.30" x2="287.30" y2="465.30" stroke="#1a1a1a" stroke-width="1.2"/>
<line x1="313.00" y1="461.30" x2="313.00" y2="465.30" stroke="#1a1a1a" stroke-width="1.2"/>
<line x1="327.10" y1="461.30" x2="327.10" y2="465.30" stroke="#1a1a1a" stroke-width="1.2"/>
<line x1="222.10" y1="461.30" x2="226.30" y2="461.30" stroke="#1a1a1a" stroke-width="1.2"/>
<text x="218.10" y="464.90" font-size="10.9" fill="#2b2b2b" stroke="#2b2b2b" stroke-width="0.12" text-anchor="end">0</text>
<line x1="222.10" y1="432.87" x2="226.30" y2="432.87" stroke="#1a1a1a" stroke-width="1.2"/>
<text x="218.10" y="436.47" font-size="10.9" fill="#2b2b2b" stroke="#2b2b2b" stroke-width="0.12" text-anchor="end">2</text>
<line x1="222.10" y1="404.43" x2="226.30" y2="404.43" stroke="#1a1a1a" stroke-width="1.2"/>
<text x="218.10" y="408.03" font-size="10.9" fill="#2b2b2b" stroke="#2b2b2b" stroke-width="0.12" text-anchor="end">4</text>
<line x1="222.10" y1="376.00" x2="226.30" y2="376.00" stroke="#1a1a1a" stroke-width="1.2"/>
<text x="218.10" y="379.60" font-size="10.9" fill="#2b2b2b" stroke="#2b2b2b" stroke-width="0.12" text-anchor="end">6</text>
<line x1="234.10" y1="367.50" x2="314.20" y2="367.50" stroke="#222" stroke-width="1.0"/>
<polygon points="273.60,359.95 274.22,361.44 275.83,361.57 274.61,362.63 274.98,364.20 273.60,363.36 272.22,364.20 272.59,362.63 271.37,361.57 272.98,361.44" fill="#222"/>
<line x1="234.10" y1="378.50" x2="272.70" y2="378.50" stroke="#222" stroke-width="1.0"/>
<polygon points="245.80,370.35 246.42,371.84 248.03,371.97 246.81,373.03 247.18,374.60 245.80,373.76 244.42,374.60 244.79,373.03 243.57,371.97 245.18,371.84" fill="#222"/>
<polygon points="250.60,370.35 251.22,371.84 252.83,371.97 251.61,373.03 251.98,374.60 250.60,373.76 249.22,374.60 249.59,373.03 248.37,371.97 249.98,371.84" fill="#222"/>
<polygon points="255.40,370.35 256.02,371.84 257.63,371.97 256.41,373.03 256.78,374.60 255.40,373.76 254.02,374.60 254.39,373.03 253.17,371.97 254.78,371.84" fill="#222"/>
<polygon points="260.20,370.35 260.82,371.84 262.43,371.97 261.21,373.03 261.58,374.60 260.20,373.76 258.82,374.60 259.19,373.03 257.97,371.97 259.58,371.84" fill="#222"/>
<line x1="274.50" y1="378.50" x2="314.20" y2="378.50" stroke="#222" stroke-width="1.0"/>
<polygon points="287.20,370.35 287.82,371.84 289.43,371.97 288.21,373.03 288.58,374.60 287.20,373.76 285.82,374.60 286.19,373.03 284.97,371.97 286.58,371.84" fill="#222"/>
<polygon points="292.00,370.35 292.62,371.84 294.23,371.97 293.01,373.03 293.38,374.60 292.00,373.76 290.62,374.60 290.99,373.03 289.77,371.97 291.38,371.84" fill="#222"/>
<polygon points="296.80,370.35 297.42,371.84 299.03,371.97 297.81,373.03 298.18,374.60 296.80,373.76 295.42,374.60 295.79,373.03 294.57,371.97 296.18,371.84" fill="#222"/>
<polygon points="301.60,370.35 302.22,371.84 303.83,371.97 302.61,373.03 302.98,374.60 301.60,373.76 300.22,374.60 300.59,373.03 299.37,371.97 300.98,371.84" fill="#222"/>
<rect x="270.30" y="546.59" width="5.80" height="29.71" fill="#e0766a"/>
<line x1="273.20" y1="546.59" x2="273.20" y2="535.31" stroke="#d0675c" stroke-width="1.2"/>
<line x1="271.20" y1="535.31" x2="275.20" y2="535.31" stroke="#d0675c" stroke-width="1.4"/>
<rect x="284.40" y="565.73" width="5.80" height="10.57" fill="#c5082a"/>
<line x1="287.30" y1="565.73" x2="287.30" y2="563.44" stroke="#a8071f" stroke-width="1.2"/>
<line x1="285.30" y1="563.44" x2="289.30" y2="563.44" stroke="#a8071f" stroke-width="1.4"/>
<rect x="310.10" y="559.30" width="5.80" height="17.00" fill="#7d8ab8"/>
<line x1="313.00" y1="559.30" x2="313.00" y2="549.16" stroke="#6b78a8" stroke-width="1.2"/>
<line x1="311.00" y1="549.16" x2="315.00" y2="549.16" stroke="#6b78a8" stroke-width="1.4"/>
<rect x="324.20" y="570.44" width="5.80" height="5.86" fill="#0f4b8c"/>
<line x1="327.10" y1="570.44" x2="327.10" y2="568.44" stroke="#0c3f78" stroke-width="1.2"/>
<line x1="325.10" y1="568.44" x2="329.10" y2="568.44" stroke="#0c3f78" stroke-width="1.4"/>
<line x1="226.30" y1="486.60" x2="226.30" y2="577.00" stroke="#1a1a1a" stroke-width="1.4"/>
<line x1="222.10" y1="576.30" x2="334.50" y2="576.30" stroke="#1a1a1a" stroke-width="1.4"/>
<line x1="233.40" y1="576.30" x2="233.40" y2="580.30" stroke="#1a1a1a" stroke-width="1.2"/>
<line x1="247.50" y1="576.30" x2="247.50" y2="580.30" stroke="#1a1a1a" stroke-width="1.2"/>
<line x1="273.20" y1="576.30" x2="273.20" y2="580.30" stroke="#1a1a1a" stroke-width="1.2"/>
<line x1="287.30" y1="576.30" x2="287.30" y2="580.30" stroke="#1a1a1a" stroke-width="1.2"/>
<line x1="313.00" y1="576.30" x2="313.00" y2="580.30" stroke="#1a1a1a" stroke-width="1.2"/>
<line x1="327.10" y1="576.30" x2="327.10" y2="580.30" stroke="#1a1a1a" stroke-width="1.2"/>
<line x1="222.10" y1="576.30" x2="226.30" y2="576.30" stroke="#1a1a1a" stroke-width="1.2"/>
<text x="218.10" y="579.90" font-size="10.9" fill="#2b2b2b" stroke="#2b2b2b" stroke-width="0.12" text-anchor="end">0</text>
<line x1="222.10" y1="547.73" x2="226.30" y2="547.73" stroke="#1a1a1a" stroke-width="1.2"/>
<text x="218.10" y="551.33" font-size="10.9" fill="#2b2b2b" stroke="#2b2b2b" stroke-width="0.12" text-anchor="end">2</text>
<line x1="222.10" y1="519.17" x2="226.30" y2="519.17" stroke="#1a1a1a" stroke-width="1.2"/>
<text x="218.10" y="522.77" font-size="10.9" fill="#2b2b2b" stroke="#2b2b2b" stroke-width="0.12" text-anchor="end">4</text>
<line x1="222.10" y1="490.60" x2="226.30" y2="490.60" stroke="#1a1a1a" stroke-width="1.2"/>
<text x="218.10" y="494.20" font-size="10.9" fill="#2b2b2b" stroke="#2b2b2b" stroke-width="0.12" text-anchor="end">6</text>
<line x1="234.10" y1="495.50" x2="273.60" y2="495.50" stroke="#222" stroke-width="1.0"/>
<polygon points="254.00,487.65 254.62,489.14 256.23,489.27 255.01,490.33 255.38,491.90 254.00,491.06 252.62,491.90 252.99,490.33 251.77,489.27 253.38,489.14" fill="#222"/>
<text x="233.40" y="592.70" font-size="10.6" fill="#2b2b2b" stroke="#2b2b2b" stroke-width="0.12" text-anchor="middle" textLength="6.90" lengthAdjust="spacingAndGlyphs">V</text>
<text x="247.50" y="592.70" font-size="10.6" fill="#bc1a4c" stroke="#bc1a4c" stroke-width="0.12" text-anchor="middle" textLength="10.90" lengthAdjust="spacingAndGlyphs">Fe</text>
<text x="273.20" y="592.70" font-size="10.6" fill="#2b2b2b" stroke="#2b2b2b" stroke-width="0.12" text-anchor="middle" textLength="6.90" lengthAdjust="spacingAndGlyphs">V</text>
<text x="287.30" y="592.70" font-size="10.6" fill="#bc1a4c" stroke="#bc1a4c" stroke-width="0.12" text-anchor="middle" textLength="10.90" lengthAdjust="spacingAndGlyphs">Fe</text>
<text x="313.00" y="592.70" font-size="10.6" fill="#2b2b2b" stroke="#2b2b2b" stroke-width="0.12" text-anchor="middle" textLength="6.90" lengthAdjust="spacingAndGlyphs">V</text>
<text x="327.10" y="592.70" font-size="10.6" fill="#bc1a4c" stroke="#bc1a4c" stroke-width="0.12" text-anchor="middle" textLength="10.90" lengthAdjust="spacingAndGlyphs">Fe</text>
<text x="422.90" y="331.60" font-size="12.2" fill="#2b2b2b" stroke="#2b2b2b" stroke-width="0.12" textLength="36.10" lengthAdjust="spacingAndGlyphs">CFU-E</text>
<text x="355.70" y="353.00" font-size="10.8" fill="#2b2b2b" stroke="#2b2b2b" stroke-width="0.12" textLength="18.30" lengthAdjust="spacingAndGlyphs">&#215;10</text>
<text x="374.50" y="348.30" font-size="7.3" fill="#2b2b2b" stroke="#2b2b2b" stroke-width="0.12">5</text>
<text x="400.70" y="353.00" font-size="10.3" fill="#4fab4f" stroke="#4fab4f" stroke-width="0.12" text-anchor="middle" font-style="italic" textLength="15.30" lengthAdjust="spacingAndGlyphs">WT</text>
<text x="440.50" y="353.00" font-size="10.3" fill="#bc1a4c" stroke="#bc1a4c" stroke-width="0.12" text-anchor="middle" font-style="italic" textLength="17.70" lengthAdjust="spacingAndGlyphs">E12</text>
<text x="480.30" y="353.00" font-size="10.3" fill="#2a5890" stroke="#2a5890" stroke-width="0.12" text-anchor="middle" font-style="italic" textLength="8.60" lengthAdjust="spacingAndGlyphs">Ki</text>
<rect x="390.70" y="428.80" width="5.80" height="32.50" fill="#a2cf8b"/>
<line x1="393.60" y1="428.80" x2="393.60" y2="425.82" stroke="#8fc27a" stroke-width="1.2"/>
<line x1="391.60" y1="425.82" x2="395.60" y2="425.82" stroke="#8fc27a" stroke-width="1.4"/>
<rect x="404.80" y="436.39" width="5.80" height="24.91" fill="#35ad35"/>
<line x1="407.70" y1="436.39" x2="407.70" y2="429.99" stroke="#2f9a30" stroke-width="1.2"/>
<line x1="405.70" y1="429.99" x2="409.70" y2="429.99" stroke="#2f9a30" stroke-width="1.4"/>
<rect x="430.50" y="422.57" width="5.80" height="38.73" fill="#e0766a"/>
<line x1="433.40" y1="422.57" x2="433.40" y2="419.08" stroke="#d0675c" stroke-width="1.2"/>
<line x1="431.40" y1="419.08" x2="435.40" y2="419.08" stroke="#d0675c" stroke-width="1.4"/>
<rect x="444.60" y="401.08" width="5.80" height="60.22" fill="#c5082a"/>
<line x1="447.50" y1="401.08" x2="447.50" y2="388.37" stroke="#a8071f" stroke-width="1.2"/>
<line x1="445.50" y1="388.37" x2="449.50" y2="388.37" stroke="#a8071f" stroke-width="1.4"/>
<rect x="470.30" y="442.02" width="5.80" height="19.28" fill="#7d8ab8"/>
<line x1="473.20" y1="442.02" x2="473.20" y2="435.71" stroke="#6b78a8" stroke-width="1.2"/>
<line x1="471.20" y1="435.71" x2="475.20" y2="435.71" stroke="#6b78a8" stroke-width="1.4"/>
<rect x="484.40" y="451.23" width="5.80" height="10.07" fill="#0f4b8c"/>
<line x1="487.30" y1="451.23" x2="487.30" y2="446.63" stroke="#0c3f78" stroke-width="1.2"/>
<line x1="485.30" y1="446.63" x2="489.30" y2="446.63" stroke="#0c3f78" stroke-width="1.4"/>
<line x1="386.50" y1="372.00" x2="386.50" y2="462.00" stroke="#1a1a1a" stroke-width="1.4"/>
<line x1="382.30" y1="461.30" x2="494.70" y2="461.30" stroke="#1a1a1a" stroke-width="1.4"/>
<line x1="393.60" y1="461.30" x2="393.60" y2="465.30" stroke="#1a1a1a" stroke-width="1.2"/>
<line x1="407.70" y1="461.30" x2="407.70" y2="465.30" stroke="#1a1a1a" stroke-width="1.2"/>
<line x1="433.40" y1="461.30" x2="433.40" y2="465.30" stroke="#1a1a1a" stroke-width="1.2"/>
<line x1="447.50" y1="461.30" x2="447.50" y2="465.30" stroke="#1a1a1a" stroke-width="1.2"/>
<line x1="473.20" y1="461.30" x2="473.20" y2="465.30" stroke="#1a1a1a" stroke-width="1.2"/>
<line x1="487.30" y1="461.30" x2="487.30" y2="465.30" stroke="#1a1a1a" stroke-width="1.2"/>
<line x1="382.30" y1="461.30" x2="386.50" y2="461.30" stroke="#1a1a1a" stroke-width="1.2"/>
<text x="378.30" y="464.90" font-size="10.9" fill="#2b2b2b" stroke="#2b2b2b" stroke-width="0.12" text-anchor="end">0</text>
<line x1="382.30" y1="444.24" x2="386.50" y2="444.24" stroke="#1a1a1a" stroke-width="1.2"/>
<text x="378.30" y="447.84" font-size="10.9" fill="#2b2b2b" stroke="#2b2b2b" stroke-width="0.12" text-anchor="end">2</text>
<line x1="382.30" y1="427.18" x2="386.50" y2="427.18" stroke="#1a1a1a" stroke-width="1.2"/>
<text x="378.30" y="430.78" font-size="10.9" fill="#2b2b2b" stroke="#2b2b2b" stroke-width="0.12" text-anchor="end">4</text>
<line x1="382.30" y1="410.12" x2="386.50" y2="410.12" stroke="#1a1a1a" stroke-width="1.2"/>
<text x="378.30" y="413.72" font-size="10.9" fill="#2b2b2b" stroke="#2b2b2b" stroke-width="0.12" text-anchor="end">6</text>
<line x1="382.30" y1="393.06" x2="386.50" y2="393.06" stroke="#1a1a1a" stroke-width="1.2"/>
<text x="378.30" y="396.66" font-size="10.9" fill="#2b2b2b" stroke="#2b2b2b" stroke-width="0.12" text-anchor="end">8</text>
<line x1="382.30" y1="376.00" x2="386.50" y2="376.00" stroke="#1a1a1a" stroke-width="1.2"/>
<text x="378.30" y="379.60" font-size="10.9" fill="#2b2b2b" stroke="#2b2b2b" stroke-width="0.12" text-anchor="end">10</text>
<line x1="393.90" y1="368.50" x2="473.50" y2="368.50" stroke="#222" stroke-width="1.0"/>
<polygon points="433.60,360.45 434.22,361.94 435.83,362.07 434.61,363.13 434.98,364.70 433.60,363.86 432.22,364.70 432.59,363.13 431.37,362.07 432.98,361.94" fill="#222"/>
<line x1="434.30" y1="378.50" x2="473.50" y2="378.50" stroke="#222" stroke-width="1.0"/>
<polygon points="451.00,371.05 451.62,372.54 453.23,372.67 452.01,373.73 452.38,375.30 451.00,374.46 449.62,375.30 449.99,373.73 448.77,372.67 450.38,372.54" fill="#222"/>
<polygon points="455.80,371.05 456.42,372.54 458.03,372.67 456.81,373.73 457.18,375.30 455.80,374.46 454.42,375.30 454.79,373.73 453.57,372.67 455.18,372.54" fill="#222"/>
<rect x="430.50" y="552.39" width="5.80" height="23.91" fill="#e0766a"/>
<line x1="433.40" y1="552.39" x2="433.40" y2="545.45" stroke="#d0675c" stroke-width="1.2"/>
<line x1="431.40" y1="545.45" x2="435.40" y2="545.45" stroke="#d0675c" stroke-width="1.4"/>
<rect x="444.60" y="560.70" width="5.80" height="15.60" fill="#c5082a"/>
<line x1="447.50" y1="560.70" x2="447.50" y2="556.50" stroke="#a8071f" stroke-width="1.2"/>
<line x1="445.50" y1="556.50" x2="449.50" y2="556.50" stroke="#a8071f" stroke-width="1.4"/>
<rect x="470.30" y="527.19" width="5.80" height="49.11" fill="#7d8ab8"/>
<line x1="473.20" y1="527.19" x2="473.20" y2="510.31" stroke="#6b78a8" stroke-width="1.2"/>
<line x1="471.20" y1="510.31" x2="475.20" y2="510.31" stroke="#6b78a8" stroke-width="1.4"/>
<rect x="484.40" y="560.70" width="5.80" height="15.60" fill="#0f4b8c"/>
<line x1="487.30" y1="560.70" x2="487.30" y2="555.39" stroke="#0c3f78" stroke-width="1.2"/>
<line x1="485.30" y1="555.39" x2="489.30" y2="555.39" stroke="#0c3f78" stroke-width="1.4"/>
<line x1="386.50" y1="486.60" x2="386.50" y2="577.00" stroke="#1a1a1a" stroke-width="1.4"/>
<line x1="382.30" y1="576.30" x2="494.70" y2="576.30" stroke="#1a1a1a" stroke-width="1.4"/>
<line x1="393.60" y1="576.30" x2="393.60" y2="580.30" stroke="#1a1a1a" stroke-width="1.2"/>
<line x1="407.70" y1="576.30" x2="407.70" y2="580.30" stroke="#1a1a1a" stroke-width="1.2"/>
<line x1="433.40" y1="576.30" x2="433.40" y2="580.30" stroke="#1a1a1a" stroke-width="1.2"/>
<line x1="447.50" y1="576.30" x2="447.50" y2="580.30" stroke="#1a1a1a" stroke-width="1.2"/>
<line x1="473.20" y1="576.30" x2="473.20" y2="580.30" stroke="#1a1a1a" stroke-width="1.2"/>
<line x1="487.30" y1="576.30" x2="487.30" y2="580.30" stroke="#1a1a1a" stroke-width="1.2"/>
<line x1="382.30" y1="576.30" x2="386.50" y2="576.30" stroke="#1a1a1a" stroke-width="1.2"/>
<text x="378.30" y="579.90" font-size="10.9" fill="#2b2b2b" stroke="#2b2b2b" stroke-width="0.12" text-anchor="end">0</text>
<line x1="382.30" y1="559.16" x2="386.50" y2="559.16" stroke="#1a1a1a" stroke-width="1.2"/>
<text x="378.30" y="562.76" font-size="10.9" fill="#2b2b2b" stroke="#2b2b2b" stroke-width="0.12" text-anchor="end">2</text>
<line x1="382.30" y1="542.02" x2="386.50" y2="542.02" stroke="#1a1a1a" stroke-width="1.2"/>
<text x="378.30" y="545.62" font-size="10.9" fill="#2b2b2b" stroke="#2b2b2b" stroke-width="0.12" text-anchor="end">4</text>
<line x1="382.30" y1="524.88" x2="386.50" y2="524.88" stroke="#1a1a1a" stroke-width="1.2"/>
<text x="378.30" y="528.48" font-size="10.9" fill="#2b2b2b" stroke="#2b2b2b" stroke-width="0.12" text-anchor="end">6</text>
<line x1="382.30" y1="507.74" x2="386.50" y2="507.74" stroke="#1a1a1a" stroke-width="1.2"/>
<text x="378.30" y="511.34" font-size="10.9" fill="#2b2b2b" stroke="#2b2b2b" stroke-width="0.12" text-anchor="end">8</text>
<line x1="382.30" y1="490.60" x2="386.50" y2="490.60" stroke="#1a1a1a" stroke-width="1.2"/>
<text x="378.30" y="494.20" font-size="10.9" fill="#2b2b2b" stroke="#2b2b2b" stroke-width="0.12" text-anchor="end">10</text>
<line x1="393.90" y1="488.50" x2="473.50" y2="488.50" stroke="#222" stroke-width="1.0"/>
<polygon points="431.40,480.75 432.02,482.24 433.63,482.37 432.41,483.43 432.78,485.00 431.40,484.16 430.02,485.00 430.39,483.43 429.17,482.37 430.78,482.24" fill="#222"/>
<polygon points="436.20,480.75 436.82,482.24 438.43,482.37 437.21,483.43 437.58,485.00 436.20,484.16 434.82,485.00 435.19,483.43 433.97,482.37 435.58,482.24" fill="#222"/>
<text x="393.60" y="592.70" font-size="10.6" fill="#2b2b2b" stroke="#2b2b2b" stroke-width="0.12" text-anchor="middle" textLength="6.90" lengthAdjust="spacingAndGlyphs">V</text>
<text x="407.70" y="592.70" font-size="10.6" fill="#bc1a4c" stroke="#bc1a4c" stroke-width="0.12" text-anchor="middle" textLength="10.90" lengthAdjust="spacingAndGlyphs">Fe</text>
<text x="433.40" y="592.70" font-size="10.6" fill="#2b2b2b" stroke="#2b2b2b" stroke-width="0.12" text-anchor="middle" textLength="6.90" lengthAdjust="spacingAndGlyphs">V</text>
<text x="447.50" y="592.70" font-size="10.6" fill="#bc1a4c" stroke="#bc1a4c" stroke-width="0.12" text-anchor="middle" textLength="10.90" lengthAdjust="spacingAndGlyphs">Fe</text>
<text x="473.20" y="592.70" font-size="10.6" fill="#2b2b2b" stroke="#2b2b2b" stroke-width="0.12" text-anchor="middle" textLength="6.90" lengthAdjust="spacingAndGlyphs">V</text>
<text x="487.30" y="592.70" font-size="10.6" fill="#bc1a4c" stroke="#bc1a4c" stroke-width="0.12" text-anchor="middle" textLength="10.90" lengthAdjust="spacingAndGlyphs">Fe</text>
<text transform="translate(35.80,120.90) rotate(-90)" x="0" y="0" font-size="13.3" fill="#2b2b2b" stroke="#2b2b2b" stroke-width="0.12" text-anchor="middle" textLength="60.00" lengthAdjust="spacingAndGlyphs">Bone marrow</text>
<text transform="translate(35.80,236.40) rotate(-90)" x="0" y="0" font-size="13.3" fill="#2b2b2b" stroke="#2b2b2b" stroke-width="0.12" text-anchor="middle" textLength="31.20" lengthAdjust="spacingAndGlyphs">Spleen</text>
<text transform="translate(35.80,416.20) rotate(-90)" x="0" y="0" font-size="13.3" fill="#2b2b2b" stroke="#2b2b2b" stroke-width="0.12" text-anchor="middle" textLength="60.00" lengthAdjust="spacingAndGlyphs">Bone marrow</text>
<text transform="translate(35.80,531.70) rotate(-90)" x="0" y="0" font-size="13.3" fill="#2b2b2b" stroke="#2b2b2b" stroke-width="0.12" text-anchor="middle" textLength="31.20" lengthAdjust="spacingAndGlyphs">Spleen</text>
<polygon points="487.40,246.10 488.01,247.56 489.59,247.69 488.38,248.72 488.75,250.26 487.40,249.44 486.05,250.26 486.42,248.72 485.21,247.69 486.79,247.56" fill="#2d5f9e"/>
<polygon points="124.60,538.45 125.22,539.94 126.83,540.07 125.61,541.13 125.98,542.70 124.60,541.86 123.22,542.70 123.59,541.13 122.37,540.07 123.98,539.94" fill="#c4174a"/>
<polygon points="129.40,538.45 130.02,539.94 131.63,540.07 130.41,541.13 130.78,542.70 129.40,541.86 128.02,542.70 128.39,541.13 127.17,540.07 128.78,539.94" fill="#c4174a"/>
<polygon points="287.70,543.10 288.31,544.56 289.89,544.69 288.68,545.72 289.05,547.26 287.70,546.43 286.35,547.26 286.72,545.72 285.51,544.69 287.09,544.56" fill="#c4174a"/>
<text x="9.90" y="629.30" font-size="14.3" fill="#111" font-weight="bold" textLength="9.50" lengthAdjust="spacingAndGlyphs">B</text>
<text x="47.30" y="629.10" font-size="12.2" fill="#2b2b2b" stroke="#2b2b2b" stroke-width="0.12" textLength="69.10" lengthAdjust="spacingAndGlyphs">Frequencies</text>
<text x="120.40" y="629.10" font-size="12.2" fill="#2b2b2b" stroke="#2b2b2b" stroke-width="0.12" textLength="11.90" lengthAdjust="spacingAndGlyphs">of</text>
<text x="135.40" y="629.10" font-size="12.2" fill="#2b2b2b" stroke="#2b2b2b" stroke-width="0.12" textLength="52.70" lengthAdjust="spacingAndGlyphs">erythroid</text>
<text x="191.30" y="629.10" font-size="12.2" fill="#2b2b2b" stroke="#2b2b2b" stroke-width="0.12" textLength="60.40" lengthAdjust="spacingAndGlyphs">precursors</text>
<text x="256.30" y="629.10" font-size="12.2" fill="#2b2b2b" stroke="#2b2b2b" stroke-width="0.12" textLength="86.40" lengthAdjust="spacingAndGlyphs">(CD71/Ter119)</text>
<text x="345.00" y="629.10" font-size="12.2" fill="#2b2b2b" stroke="#2b2b2b" stroke-width="0.12" textLength="9.80" lengthAdjust="spacingAndGlyphs">in</text>
<text x="358.40" y="629.10" font-size="12.2" fill="#2b2b2b" stroke="#2b2b2b" stroke-width="0.12" textLength="28.20" lengthAdjust="spacingAndGlyphs">bone</text>
<text x="390.60" y="629.10" font-size="12.2" fill="#2b2b2b" stroke="#2b2b2b" stroke-width="0.12" textLength="44.50" lengthAdjust="spacingAndGlyphs">marrow</text>
<text x="438.60" y="629.10" font-size="12.2" fill="#2b2b2b" stroke="#2b2b2b" stroke-width="0.12" textLength="21.20" lengthAdjust="spacingAndGlyphs">and</text>
<text x="463.70" y="629.10" font-size="12.2" fill="#2b2b2b" stroke="#2b2b2b" stroke-width="0.12" textLength="38.00" lengthAdjust="spacingAndGlyphs">spleen</text>
<rect x="91.90" y="758.99" width="10.60" height="1.21" fill="#22a3dc"/>
<rect x="91.90" y="705.45" width="10.60" height="53.54" fill="#abd395"/>
<rect x="91.90" y="696.35" width="10.60" height="9.10" fill="#f9c20f"/>
<rect x="91.90" y="678.75" width="10.60" height="17.59" fill="#e07168"/>
<line x1="94.30" y1="758.99" x2="100.10" y2="758.99" stroke="#1a1a1a" stroke-width="1.5"/>
<line x1="94.30" y1="705.45" x2="100.10" y2="705.45" stroke="#1a1a1a" stroke-width="1.5"/>
<line x1="94.30" y1="696.35" x2="100.10" y2="696.35" stroke="#1a1a1a" stroke-width="1.5"/>
<line x1="94.30" y1="678.75" x2="100.10" y2="678.75" stroke="#1a1a1a" stroke-width="1.5"/>
<rect x="120.40" y="758.99" width="10.60" height="1.21" fill="#22a3dc"/>
<rect x="120.40" y="718.80" width="10.60" height="40.19" fill="#abd395"/>
<rect x="120.40" y="704.69" width="10.60" height="14.11" fill="#f9c20f"/>
<rect x="120.40" y="691.19" width="10.60" height="13.50" fill="#e07168"/>
<line x1="122.80" y1="758.99" x2="128.60" y2="758.99" stroke="#1a1a1a" stroke-width="1.5"/>
<line x1="125.70" y1="718.80" x2="125.70" y2="715.16" stroke="#1a1a1a" stroke-width="1.3"/>
<line x1="122.80" y1="715.16" x2="128.60" y2="715.16" stroke="#1a1a1a" stroke-width="1.5"/>
<line x1="122.80" y1="704.69" x2="128.60" y2="704.69" stroke="#1a1a1a" stroke-width="1.5"/>
<line x1="125.70" y1="691.19" x2="125.70" y2="689.22" stroke="#1a1a1a" stroke-width="1.3"/>
<line x1="122.80" y1="689.22" x2="128.60" y2="689.22" stroke="#1a1a1a" stroke-width="1.5"/>
<line x1="83.10" y1="665.20" x2="83.10" y2="760.90" stroke="#1a1a1a" stroke-width="1.4"/>
<line x1="78.90" y1="760.20" x2="139.40" y2="760.20" stroke="#1a1a1a" stroke-width="1.4"/>
<line x1="97.20" y1="760.20" x2="97.20" y2="764.20" stroke="#1a1a1a" stroke-width="1.2"/>
<line x1="125.70" y1="760.20" x2="125.70" y2="764.20" stroke="#1a1a1a" stroke-width="1.2"/>
<line x1="78.90" y1="760.20" x2="83.10" y2="760.20" stroke="#1a1a1a" stroke-width="1.2"/>
<text x="74.90" y="763.80" font-size="10.9" fill="#2b2b2b" stroke="#2b2b2b" stroke-width="0.12" text-anchor="end">0</text>
<line x1="78.90" y1="729.87" x2="83.10" y2="729.87" stroke="#1a1a1a" stroke-width="1.2"/>
<text x="74.90" y="733.47" font-size="10.9" fill="#2b2b2b" stroke="#2b2b2b" stroke-width="0.12" text-anchor="end" textLength="12.40" lengthAdjust="spacingAndGlyphs">20</text>
<line x1="78.90" y1="699.53" x2="83.10" y2="699.53" stroke="#1a1a1a" stroke-width="1.2"/>
<text x="74.90" y="703.13" font-size="10.9" fill="#2b2b2b" stroke="#2b2b2b" stroke-width="0.12" text-anchor="end" textLength="12.40" lengthAdjust="spacingAndGlyphs">40</text>
<line x1="78.90" y1="669.20" x2="83.10" y2="669.20" stroke="#1a1a1a" stroke-width="1.2"/>
<text x="74.90" y="672.80" font-size="10.9" fill="#2b2b2b" stroke="#2b2b2b" stroke-width="0.12" text-anchor="end" textLength="12.40" lengthAdjust="spacingAndGlyphs">60</text>
<rect x="91.90" y="879.55" width="10.60" height="0.45" fill="#22a3dc"/>
<rect x="91.90" y="875.61" width="10.60" height="3.93" fill="#abd395"/>
<rect x="91.90" y="874.10" width="10.60" height="1.51" fill="#f9c20f"/>
<rect x="91.90" y="847.01" width="10.60" height="27.09" fill="#e07168"/>
<line x1="97.20" y1="875.61" x2="97.20" y2="874.10" stroke="#1a1a1a" stroke-width="1.3"/>
<line x1="94.30" y1="874.10" x2="100.10" y2="874.10" stroke="#1a1a1a" stroke-width="1.5"/>
<line x1="97.20" y1="847.01" x2="97.20" y2="845.19" stroke="#1a1a1a" stroke-width="1.3"/>
<line x1="94.30" y1="845.19" x2="100.10" y2="845.19" stroke="#1a1a1a" stroke-width="1.5"/>
<rect x="120.40" y="879.55" width="10.60" height="0.45" fill="#22a3dc"/>
<rect x="120.40" y="874.40" width="10.60" height="5.15" fill="#abd395"/>
<rect x="120.40" y="871.07" width="10.60" height="3.33" fill="#f9c20f"/>
<rect x="120.40" y="844.74" width="10.60" height="26.33" fill="#e07168"/>
<line x1="125.70" y1="874.40" x2="125.70" y2="873.49" stroke="#1a1a1a" stroke-width="1.3"/>
<line x1="122.80" y1="873.49" x2="128.60" y2="873.49" stroke="#1a1a1a" stroke-width="1.5"/>
<line x1="122.80" y1="871.07" x2="128.60" y2="871.07" stroke="#1a1a1a" stroke-width="1.5"/>
<line x1="125.70" y1="844.74" x2="125.70" y2="842.02" stroke="#1a1a1a" stroke-width="1.3"/>
<line x1="122.80" y1="842.02" x2="128.60" y2="842.02" stroke="#1a1a1a" stroke-width="1.5"/>
<line x1="83.10" y1="785.20" x2="83.10" y2="880.70" stroke="#1a1a1a" stroke-width="1.4"/>
<line x1="78.90" y1="880.00" x2="139.40" y2="880.00" stroke="#1a1a1a" stroke-width="1.4"/>
<line x1="97.20" y1="880.00" x2="97.20" y2="884.00" stroke="#1a1a1a" stroke-width="1.2"/>
<line x1="125.70" y1="880.00" x2="125.70" y2="884.00" stroke="#1a1a1a" stroke-width="1.2"/>
<line x1="78.90" y1="880.00" x2="83.10" y2="880.00" stroke="#1a1a1a" stroke-width="1.2"/>
<text x="74.90" y="883.60" font-size="10.9" fill="#2b2b2b" stroke="#2b2b2b" stroke-width="0.12" text-anchor="end">0</text>
<line x1="78.90" y1="849.73" x2="83.10" y2="849.73" stroke="#1a1a1a" stroke-width="1.2"/>
<text x="74.90" y="853.33" font-size="10.9" fill="#2b2b2b" stroke="#2b2b2b" stroke-width="0.12" text-anchor="end" textLength="12.40" lengthAdjust="spacingAndGlyphs">20</text>
<line x1="78.90" y1="819.47" x2="83.10" y2="819.47" stroke="#1a1a1a" stroke-width="1.2"/>
<text x="74.90" y="823.07" font-size="10.9" fill="#2b2b2b" stroke="#2b2b2b" stroke-width="0.12" text-anchor="end" textLength="12.40" lengthAdjust="spacingAndGlyphs">40</text>
<line x1="78.90" y1="789.20" x2="83.10" y2="789.20" stroke="#1a1a1a" stroke-width="1.2"/>
<text x="74.90" y="792.80" font-size="10.9" fill="#2b2b2b" stroke="#2b2b2b" stroke-width="0.12" text-anchor="end" textLength="12.40" lengthAdjust="spacingAndGlyphs">60</text>
<text x="97.20" y="897.30" font-size="10.6" fill="#2b2b2b" stroke="#2b2b2b" stroke-width="0.12" text-anchor="middle" textLength="7.40" lengthAdjust="spacingAndGlyphs">V</text>
<text x="125.70" y="897.30" font-size="10.6" fill="#bc1a4c" stroke="#bc1a4c" stroke-width="0.12" text-anchor="middle" textLength="10.60" lengthAdjust="spacingAndGlyphs">Fe</text>
<text x="66.10" y="658.80" font-size="10.3" fill="#2b2b2b" stroke="#2b2b2b" stroke-width="0.12" textLength="8.60" lengthAdjust="spacingAndGlyphs">%</text>
<text x="111.40" y="658.80" font-size="10.3" fill="#4fab4f" stroke="#4fab4f" stroke-width="0.12" text-anchor="middle" font-style="italic" textLength="15.30" lengthAdjust="spacingAndGlyphs">WT</text>
<rect x="189.00" y="756.41" width="10.60" height="3.79" fill="#22a3dc"/>
<rect x="189.00" y="720.16" width="10.60" height="36.25" fill="#abd395"/>
<rect x="189.00" y="713.94" width="10.60" height="6.22" fill="#f9c20f"/>
<rect x="189.00" y="691.95" width="10.60" height="21.99" fill="#e07168"/>
<line x1="191.40" y1="756.41" x2="197.20" y2="756.41" stroke="#1a1a1a" stroke-width="1.5"/>
<line x1="194.30" y1="720.16" x2="194.30" y2="715.16" stroke="#1a1a1a" stroke-width="1.3"/>
<line x1="191.40" y1="715.16" x2="197.20" y2="715.16" stroke="#1a1a1a" stroke-width="1.5"/>
<line x1="194.30" y1="691.95" x2="194.30" y2="688.46" stroke="#1a1a1a" stroke-width="1.3"/>
<line x1="191.40" y1="688.46" x2="197.20" y2="688.46" stroke="#1a1a1a" stroke-width="1.5"/>
<rect x="217.50" y="756.41" width="10.60" height="3.79" fill="#22a3dc"/>
<rect x="217.50" y="719.86" width="10.60" height="36.55" fill="#abd395"/>
<rect x="217.50" y="712.43" width="10.60" height="7.43" fill="#f9c20f"/>
<rect x="217.50" y="673.75" width="10.60" height="38.68" fill="#e07168"/>
<line x1="219.90" y1="756.41" x2="225.70" y2="756.41" stroke="#1a1a1a" stroke-width="1.5"/>
<line x1="222.80" y1="719.86" x2="222.80" y2="718.34" stroke="#1a1a1a" stroke-width="1.3"/>
<line x1="219.90" y1="718.34" x2="225.70" y2="718.34" stroke="#1a1a1a" stroke-width="1.5"/>
<line x1="219.90" y1="712.43" x2="225.70" y2="712.43" stroke="#1a1a1a" stroke-width="1.5"/>
<line x1="222.80" y1="673.75" x2="222.80" y2="670.57" stroke="#1a1a1a" stroke-width="1.3"/>
<line x1="219.90" y1="670.57" x2="225.70" y2="670.57" stroke="#1a1a1a" stroke-width="1.5"/>
<line x1="180.20" y1="665.20" x2="180.20" y2="760.90" stroke="#1a1a1a" stroke-width="1.4"/>
<line x1="176.00" y1="760.20" x2="236.50" y2="760.20" stroke="#1a1a1a" stroke-width="1.4"/>
<line x1="194.30" y1="760.20" x2="194.30" y2="764.20" stroke="#1a1a1a" stroke-width="1.2"/>
<line x1="222.80" y1="760.20" x2="222.80" y2="764.20" stroke="#1a1a1a" stroke-width="1.2"/>
<line x1="176.00" y1="760.20" x2="180.20" y2="760.20" stroke="#1a1a1a" stroke-width="1.2"/>
<text x="172.00" y="763.80" font-size="10.9" fill="#2b2b2b" stroke="#2b2b2b" stroke-width="0.12" text-anchor="end">0</text>
<line x1="176.00" y1="729.87" x2="180.20" y2="729.87" stroke="#1a1a1a" stroke-width="1.2"/>
<text x="172.00" y="733.47" font-size="10.9" fill="#2b2b2b" stroke="#2b2b2b" stroke-width="0.12" text-anchor="end" textLength="12.40" lengthAdjust="spacingAndGlyphs">20</text>
<line x1="176.00" y1="699.53" x2="180.20" y2="699.53" stroke="#1a1a1a" stroke-width="1.2"/>
<text x="172.00" y="703.13" font-size="10.9" fill="#2b2b2b" stroke="#2b2b2b" stroke-width="0.12" text-anchor="end" textLength="12.40" lengthAdjust="spacingAndGlyphs">40</text>
<line x1="176.00" y1="669.20" x2="180.20" y2="669.20" stroke="#1a1a1a" stroke-width="1.2"/>
<text x="172.00" y="672.80" font-size="10.9" fill="#2b2b2b" stroke="#2b2b2b" stroke-width="0.12" text-anchor="end" textLength="12.40" lengthAdjust="spacingAndGlyphs">60</text>
<rect x="189.00" y="871.07" width="10.60" height="8.93" fill="#22a3dc"/>
<rect x="189.00" y="812.81" width="10.60" height="58.26" fill="#abd395"/>
<rect x="189.00" y="806.60" width="10.60" height="6.20" fill="#f9c20f"/>
<rect x="189.00" y="790.71" width="10.60" height="15.89" fill="#e07168"/>
<line x1="194.30" y1="871.07" x2="194.30" y2="870.16" stroke="#1a1a1a" stroke-width="1.3"/>
<line x1="191.40" y1="870.16" x2="197.20" y2="870.16" stroke="#1a1a1a" stroke-width="1.5"/>
<line x1="194.30" y1="812.81" x2="194.30" y2="809.93" stroke="#1a1a1a" stroke-width="1.3"/>
<line x1="191.40" y1="809.93" x2="197.20" y2="809.93" stroke="#1a1a1a" stroke-width="1.5"/>
<line x1="194.30" y1="806.60" x2="194.30" y2="805.39" stroke="#1a1a1a" stroke-width="1.3"/>
<line x1="191.40" y1="805.39" x2="197.20" y2="805.39" stroke="#1a1a1a" stroke-width="1.5"/>
<line x1="194.30" y1="790.71" x2="194.30" y2="788.44" stroke="#1a1a1a" stroke-width="1.3"/>
<line x1="191.40" y1="788.44" x2="197.20" y2="788.44" stroke="#1a1a1a" stroke-width="1.5"/>
<rect x="217.50" y="867.29" width="10.60" height="12.71" fill="#22a3dc"/>
<rect x="217.50" y="823.70" width="10.60" height="43.58" fill="#abd395"/>
<rect x="217.50" y="815.53" width="10.60" height="8.17" fill="#f9c20f"/>
<rect x="217.50" y="791.77" width="10.60" height="23.76" fill="#e07168"/>
<line x1="222.80" y1="867.29" x2="222.80" y2="865.62" stroke="#1a1a1a" stroke-width="1.3"/>
<line x1="219.90" y1="865.62" x2="225.70" y2="865.62" stroke="#1a1a1a" stroke-width="1.5"/>
<line x1="222.80" y1="823.70" x2="222.80" y2="820.53" stroke="#1a1a1a" stroke-width="1.3"/>
<line x1="219.90" y1="820.53" x2="225.70" y2="820.53" stroke="#1a1a1a" stroke-width="1.5"/>
<line x1="222.80" y1="815.53" x2="222.80" y2="814.93" stroke="#1a1a1a" stroke-width="1.3"/>
<line x1="219.90" y1="814.93" x2="225.70" y2="814.93" stroke="#1a1a1a" stroke-width="1.5"/>
<line x1="222.80" y1="791.77" x2="222.80" y2="786.78" stroke="#1a1a1a" stroke-width="1.3"/>
<line x1="219.90" y1="786.78" x2="225.70" y2="786.78" stroke="#1a1a1a" stroke-width="1.5"/>
<line x1="180.20" y1="785.20" x2="180.20" y2="880.70" stroke="#1a1a1a" stroke-width="1.4"/>
<line x1="176.00" y1="880.00" x2="236.50" y2="880.00" stroke="#1a1a1a" stroke-width="1.4"/>
<line x1="194.30" y1="880.00" x2="194.30" y2="884.00" stroke="#1a1a1a" stroke-width="1.2"/>
<line x1="222.80" y1="880.00" x2="222.80" y2="884.00" stroke="#1a1a1a" stroke-width="1.2"/>
<line x1="176.00" y1="880.00" x2="180.20" y2="880.00" stroke="#1a1a1a" stroke-width="1.2"/>
<text x="172.00" y="883.60" font-size="10.9" fill="#2b2b2b" stroke="#2b2b2b" stroke-width="0.12" text-anchor="end">0</text>
<line x1="176.00" y1="849.73" x2="180.20" y2="849.73" stroke="#1a1a1a" stroke-width="1.2"/>
<text x="172.00" y="853.33" font-size="10.9" fill="#2b2b2b" stroke="#2b2b2b" stroke-width="0.12" text-anchor="end" textLength="12.40" lengthAdjust="spacingAndGlyphs">20</text>
<line x1="176.00" y1="819.47" x2="180.20" y2="819.47" stroke="#1a1a1a" stroke-width="1.2"/>
<text x="172.00" y="823.07" font-size="10.9" fill="#2b2b2b" stroke="#2b2b2b" stroke-width="0.12" text-anchor="end" textLength="12.40" lengthAdjust="spacingAndGlyphs">40</text>
<line x1="176.00" y1="789.20" x2="180.20" y2="789.20" stroke="#1a1a1a" stroke-width="1.2"/>
<text x="172.00" y="792.80" font-size="10.9" fill="#2b2b2b" stroke="#2b2b2b" stroke-width="0.12" text-anchor="end" textLength="12.40" lengthAdjust="spacingAndGlyphs">60</text>
<text x="194.30" y="897.30" font-size="10.6" fill="#2b2b2b" stroke="#2b2b2b" stroke-width="0.12" text-anchor="middle" textLength="7.40" lengthAdjust="spacingAndGlyphs">V</text>
<text x="222.80" y="897.30" font-size="10.6" fill="#bc1a4c" stroke="#bc1a4c" stroke-width="0.12" text-anchor="middle" textLength="10.60" lengthAdjust="spacingAndGlyphs">Fe</text>
<text x="163.20" y="658.80" font-size="10.3" fill="#2b2b2b" stroke="#2b2b2b" stroke-width="0.12" textLength="8.60" lengthAdjust="spacingAndGlyphs">%</text>
<text x="208.50" y="658.80" font-size="10.3" fill="#bc1a4c" stroke="#bc1a4c" stroke-width="0.12" text-anchor="middle" font-style="italic" textLength="17.30" lengthAdjust="spacingAndGlyphs">E12</text>
<rect x="286.10" y="753.07" width="10.60" height="7.13" fill="#22a3dc"/>
<rect x="286.10" y="715.76" width="10.60" height="37.31" fill="#abd395"/>
<rect x="286.10" y="712.43" width="10.60" height="3.34" fill="#f9c20f"/>
<rect x="286.10" y="697.87" width="10.60" height="14.56" fill="#e07168"/>
<line x1="291.40" y1="753.07" x2="291.40" y2="752.77" stroke="#1a1a1a" stroke-width="1.3"/>
<line x1="288.50" y1="752.77" x2="294.30" y2="752.77" stroke="#1a1a1a" stroke-width="1.5"/>
<line x1="291.40" y1="715.76" x2="291.40" y2="708.79" stroke="#1a1a1a" stroke-width="1.3"/>
<line x1="288.50" y1="708.79" x2="294.30" y2="708.79" stroke="#1a1a1a" stroke-width="1.5"/>
<line x1="291.40" y1="712.43" x2="291.40" y2="711.06" stroke="#1a1a1a" stroke-width="1.3"/>
<line x1="288.50" y1="711.06" x2="294.30" y2="711.06" stroke="#1a1a1a" stroke-width="1.5"/>
<line x1="291.40" y1="697.87" x2="291.40" y2="696.65" stroke="#1a1a1a" stroke-width="1.3"/>
<line x1="288.50" y1="696.65" x2="294.30" y2="696.65" stroke="#1a1a1a" stroke-width="1.5"/>
<rect x="314.60" y="755.95" width="10.60" height="4.25" fill="#22a3dc"/>
<rect x="314.60" y="724.56" width="10.60" height="31.39" fill="#abd395"/>
<rect x="314.60" y="719.55" width="10.60" height="5.00" fill="#f9c20f"/>
<rect x="314.60" y="689.83" width="10.60" height="29.73" fill="#e07168"/>
<line x1="319.90" y1="755.95" x2="319.90" y2="755.50" stroke="#1a1a1a" stroke-width="1.3"/>
<line x1="317.00" y1="755.50" x2="322.80" y2="755.50" stroke="#1a1a1a" stroke-width="1.5"/>
<line x1="319.90" y1="724.56" x2="319.90" y2="718.64" stroke="#1a1a1a" stroke-width="1.3"/>
<line x1="317.00" y1="718.64" x2="322.80" y2="718.64" stroke="#1a1a1a" stroke-width="1.5"/>
<line x1="319.90" y1="689.83" x2="319.90" y2="682.55" stroke="#1a1a1a" stroke-width="1.3"/>
<line x1="317.00" y1="682.55" x2="322.80" y2="682.55" stroke="#1a1a1a" stroke-width="1.5"/>
<line x1="277.30" y1="665.20" x2="277.30" y2="760.90" stroke="#1a1a1a" stroke-width="1.4"/>
<line x1="273.10" y1="760.20" x2="333.60" y2="760.20" stroke="#1a1a1a" stroke-width="1.4"/>
<line x1="291.40" y1="760.20" x2="291.40" y2="764.20" stroke="#1a1a1a" stroke-width="1.2"/>
<line x1="319.90" y1="760.20" x2="319.90" y2="764.20" stroke="#1a1a1a" stroke-width="1.2"/>
<line x1="273.10" y1="760.20" x2="277.30" y2="760.20" stroke="#1a1a1a" stroke-width="1.2"/>
<text x="269.10" y="763.80" font-size="10.9" fill="#2b2b2b" stroke="#2b2b2b" stroke-width="0.12" text-anchor="end">0</text>
<line x1="273.10" y1="729.87" x2="277.30" y2="729.87" stroke="#1a1a1a" stroke-width="1.2"/>
<text x="269.10" y="733.47" font-size="10.9" fill="#2b2b2b" stroke="#2b2b2b" stroke-width="0.12" text-anchor="end" textLength="12.40" lengthAdjust="spacingAndGlyphs">20</text>
<line x1="273.10" y1="699.53" x2="277.30" y2="699.53" stroke="#1a1a1a" stroke-width="1.2"/>
<text x="269.10" y="703.13" font-size="10.9" fill="#2b2b2b" stroke="#2b2b2b" stroke-width="0.12" text-anchor="end" textLength="12.40" lengthAdjust="spacingAndGlyphs">40</text>
<line x1="273.10" y1="669.20" x2="277.30" y2="669.20" stroke="#1a1a1a" stroke-width="1.2"/>
<text x="269.10" y="672.80" font-size="10.9" fill="#2b2b2b" stroke="#2b2b2b" stroke-width="0.12" text-anchor="end" textLength="12.40" lengthAdjust="spacingAndGlyphs">60</text>
<rect x="286.10" y="875.16" width="10.60" height="4.84" fill="#22a3dc"/>
<rect x="286.10" y="806.75" width="10.60" height="68.40" fill="#abd395"/>
<rect x="286.10" y="799.79" width="10.60" height="6.96" fill="#f9c20f"/>
<rect x="286.10" y="784.05" width="10.60" height="15.74" fill="#e07168"/>
<line x1="291.40" y1="875.16" x2="291.40" y2="874.85" stroke="#1a1a1a" stroke-width="1.3"/>
<line x1="288.50" y1="874.85" x2="294.30" y2="874.85" stroke="#1a1a1a" stroke-width="1.5"/>
<line x1="291.40" y1="806.75" x2="291.40" y2="796.16" stroke="#1a1a1a" stroke-width="1.3"/>
<line x1="288.50" y1="796.16" x2="294.30" y2="796.16" stroke="#1a1a1a" stroke-width="1.5"/>
<line x1="291.40" y1="784.05" x2="291.40" y2="781.63" stroke="#1a1a1a" stroke-width="1.3"/>
<line x1="288.50" y1="781.63" x2="294.30" y2="781.63" stroke="#1a1a1a" stroke-width="1.5"/>
<rect x="314.60" y="875.76" width="10.60" height="4.24" fill="#22a3dc"/>
<rect x="314.60" y="808.27" width="10.60" height="67.49" fill="#abd395"/>
<rect x="314.60" y="803.43" width="10.60" height="4.84" fill="#f9c20f"/>
<rect x="314.60" y="778.91" width="10.60" height="24.52" fill="#e07168"/>
<line x1="317.00" y1="875.76" x2="322.80" y2="875.76" stroke="#1a1a1a" stroke-width="1.5"/>
<line x1="319.90" y1="808.27" x2="319.90" y2="803.12" stroke="#1a1a1a" stroke-width="1.3"/>
<line x1="317.00" y1="803.12" x2="322.80" y2="803.12" stroke="#1a1a1a" stroke-width="1.5"/>
<line x1="319.90" y1="803.43" x2="319.90" y2="799.79" stroke="#1a1a1a" stroke-width="1.3"/>
<line x1="317.00" y1="799.79" x2="322.80" y2="799.79" stroke="#1a1a1a" stroke-width="1.5"/>
<line x1="319.90" y1="778.91" x2="319.90" y2="774.07" stroke="#1a1a1a" stroke-width="1.3"/>
<line x1="317.00" y1="774.07" x2="322.80" y2="774.07" stroke="#1a1a1a" stroke-width="1.5"/>
<line x1="277.30" y1="785.20" x2="277.30" y2="880.70" stroke="#1a1a1a" stroke-width="1.4"/>
<line x1="273.10" y1="880.00" x2="333.60" y2="880.00" stroke="#1a1a1a" stroke-width="1.4"/>
<line x1="291.40" y1="880.00" x2="291.40" y2="884.00" stroke="#1a1a1a" stroke-width="1.2"/>
<line x1="319.90" y1="880.00" x2="319.90" y2="884.00" stroke="#1a1a1a" stroke-width="1.2"/>
<line x1="273.10" y1="880.00" x2="277.30" y2="880.00" stroke="#1a1a1a" stroke-width="1.2"/>
<text x="269.10" y="883.60" font-size="10.9" fill="#2b2b2b" stroke="#2b2b2b" stroke-width="0.12" text-anchor="end">0</text>
<line x1="273.10" y1="849.73" x2="277.30" y2="849.73" stroke="#1a1a1a" stroke-width="1.2"/>
<text x="269.10" y="853.33" font-size="10.9" fill="#2b2b2b" stroke="#2b2b2b" stroke-width="0.12" text-anchor="end" textLength="12.40" lengthAdjust="spacingAndGlyphs">20</text>
<line x1="273.10" y1="819.47" x2="277.30" y2="819.47" stroke="#1a1a1a" stroke-width="1.2"/>
<text x="269.10" y="823.07" font-size="10.9" fill="#2b2b2b" stroke="#2b2b2b" stroke-width="0.12" text-anchor="end" textLength="12.40" lengthAdjust="spacingAndGlyphs">40</text>
<line x1="273.10" y1="789.20" x2="277.30" y2="789.20" stroke="#1a1a1a" stroke-width="1.2"/>
<text x="269.10" y="792.80" font-size="10.9" fill="#2b2b2b" stroke="#2b2b2b" stroke-width="0.12" text-anchor="end" textLength="12.40" lengthAdjust="spacingAndGlyphs">60</text>
<text x="291.40" y="897.30" font-size="10.6" fill="#2b2b2b" stroke="#2b2b2b" stroke-width="0.12" text-anchor="middle" textLength="7.40" lengthAdjust="spacingAndGlyphs">V</text>
<text x="319.90" y="897.30" font-size="10.6" fill="#bc1a4c" stroke="#bc1a4c" stroke-width="0.12" text-anchor="middle" textLength="10.60" lengthAdjust="spacingAndGlyphs">Fe</text>
<text x="260.30" y="658.80" font-size="10.3" fill="#2b2b2b" stroke="#2b2b2b" stroke-width="0.12" textLength="8.60" lengthAdjust="spacingAndGlyphs">%</text>
<text x="305.60" y="658.80" font-size="10.3" fill="#2a5890" stroke="#2a5890" stroke-width="0.12" text-anchor="middle" font-style="italic" textLength="8.10" lengthAdjust="spacingAndGlyphs">Ki</text>
<text transform="translate(55.80,712.10) rotate(-90)" x="0" y="0" font-size="13.3" fill="#2b2b2b" stroke="#2b2b2b" stroke-width="0.12" text-anchor="middle" textLength="59.40" lengthAdjust="spacingAndGlyphs">Bone marrow</text>
<text transform="translate(55.70,832.80) rotate(-90)" x="0" y="0" font-size="13.3" fill="#2b2b2b" stroke="#2b2b2b" stroke-width="0.12" text-anchor="middle" textLength="30.40" lengthAdjust="spacingAndGlyphs">Spleen</text>
<polygon points="123.55,730.05 124.98,729.45 125.10,727.91 126.11,729.09 127.62,728.73 126.81,730.05 127.62,731.37 126.11,731.01 125.10,732.19 124.98,730.65" fill="#1a1a1a"/>
<polygon points="123.55,734.75 124.98,734.15 125.10,732.61 126.11,733.79 127.62,733.43 126.81,734.75 127.62,736.07 126.11,735.71 125.10,736.89 124.98,735.35" fill="#1a1a1a"/>
<polygon points="123.55,739.45 124.98,738.85 125.10,737.31 126.11,738.49 127.62,738.13 126.81,739.45 127.62,740.77 126.11,740.41 125.10,741.59 124.98,740.05" fill="#1a1a1a"/>
<polygon points="123.55,744.15 124.98,743.55 125.10,742.01 126.11,743.19 127.62,742.83 126.81,744.15 127.62,745.47 126.11,745.11 125.10,746.29 124.98,744.75" fill="#1a1a1a"/>
<polygon points="220.70,687.35 221.97,686.82 222.08,685.45 222.98,686.49 224.32,686.17 223.60,687.35 224.32,688.53 222.98,688.21 222.08,689.25 221.97,687.88" fill="#3a2020"/>
<polygon points="220.70,691.85 221.97,691.32 222.08,689.95 222.98,690.99 224.32,690.67 223.60,691.85 224.32,693.03 222.98,692.71 222.08,693.75 221.97,692.38" fill="#3a2020"/>
<polygon points="220.70,696.35 221.97,695.82 222.08,694.45 222.98,695.49 224.32,695.17 223.60,696.35 224.32,697.53 222.98,697.21 222.08,698.25 221.97,696.88" fill="#3a2020"/>
<polygon points="220.70,700.85 221.97,700.32 222.08,698.95 222.98,699.99 224.32,699.67 223.60,700.85 224.32,702.03 222.98,701.71 222.08,702.75 221.97,701.38" fill="#3a2020"/>
<polygon points="318.10,705.70 319.31,705.20 319.41,703.89 320.26,704.89 321.54,704.58 320.86,705.70 321.54,706.82 320.26,706.51 319.41,707.51 319.31,706.20" fill="#1a1a1a"/>
<polygon points="192.50,834.50 193.77,833.97 193.88,832.60 194.78,833.64 196.12,833.32 195.40,834.50 196.12,835.68 194.78,835.36 193.88,836.40 193.77,835.03" fill="#2a3a20"/>
<polygon points="192.50,839.30 193.77,838.77 193.88,837.40 194.78,838.44 196.12,838.12 195.40,839.30 196.12,840.48 194.78,840.16 193.88,841.20 193.77,839.83" fill="#2a3a20"/>
<polygon points="192.50,844.10 193.77,843.57 193.88,842.20 194.78,843.24 196.12,842.92 195.40,844.10 196.12,845.28 194.78,844.96 193.88,846.00 193.77,844.63" fill="#2a3a20"/>
<polygon points="192.50,848.90 193.77,848.37 193.88,847.00 194.78,848.04 196.12,847.72 195.40,848.90 196.12,850.08 194.78,849.76 193.88,850.80 193.77,849.43" fill="#2a3a20"/>
<polygon points="221.00,804.80 222.21,804.30 222.31,802.99 223.16,803.99 224.44,803.68 223.75,804.80 224.44,805.92 223.16,805.61 222.31,806.61 222.21,805.30" fill="#1a1a1a"/>
<rect x="338.20" y="681.30" width="7.70" height="7.50" fill="#e07168"/>
<text x="355.00" y="687.90" font-size="9.0" fill="#2b2b2b" stroke="#2b2b2b" stroke-width="0.12" text-anchor="middle">IV</text>
<rect x="338.20" y="696.20" width="7.70" height="7.50" fill="#f9c20f"/>
<text x="355.00" y="702.80" font-size="9.0" fill="#2b2b2b" stroke="#2b2b2b" stroke-width="0.12" text-anchor="middle">III</text>
<rect x="338.20" y="711.20" width="7.70" height="7.50" fill="#abd395"/>
<text x="355.00" y="717.80" font-size="9.0" fill="#2b2b2b" stroke="#2b2b2b" stroke-width="0.12" text-anchor="middle">II</text>
<rect x="338.20" y="726.30" width="7.70" height="7.50" fill="#22a3dc"/>
<text x="355.00" y="732.90" font-size="9.0" fill="#2b2b2b" stroke="#2b2b2b" stroke-width="0.12" text-anchor="middle">I</text>
<text x="404.00" y="657.50" font-size="9.4" fill="#2b2b2b" stroke="#2b2b2b" stroke-width="0.12" textLength="106.50" lengthAdjust="spacingAndGlyphs">stages of differentiation</text>
<text x="410.60" y="674.80" font-size="9.0" fill="#2b2b2b" stroke="#2b2b2b" stroke-width="0.12" text-anchor="middle">I</text>
<text x="441.00" y="674.80" font-size="9.0" fill="#2b2b2b" stroke="#2b2b2b" stroke-width="0.12" text-anchor="middle">II</text>
<text x="468.00" y="674.80" font-size="9.0" fill="#2b2b2b" stroke="#2b2b2b" stroke-width="0.12" text-anchor="middle">III</text>
<text x="496.00" y="674.80" font-size="9.0" fill="#2b2b2b" stroke="#2b2b2b" stroke-width="0.12" text-anchor="middle">IV</text>
<line x1="484.20" y1="679.30" x2="507.10" y2="679.30" stroke="#222" stroke-width="1.1"/>
<defs><radialGradient id="cellI" cx="0.55" cy="0.45" r="0.6"><stop offset="0" stop-color="#a82aa0"/><stop offset="0.6" stop-color="#8c2e9e"/><stop offset="1" stop-color="#5e3a9c"/></radialGradient></defs>
<path d="M411.2,681.0 C415.5,681.0 418.6,684.2 418.5,688.6 C418.4,693.2 415.2,696.3 411.0,696.2 C406.6,696.1 403.5,692.8 403.6,688.4 C403.7,684.0 406.9,681.0 411.2,681.0 Z" fill="url(#cellI)"/>
<circle cx="441.5" cy="689.7" r="7.2" fill="#fff" stroke="#3a2a2a" stroke-width="1"/>
<circle cx="441.5" cy="689.7" r="5.6" fill="#d20a40"/>
<circle cx="469.0" cy="690.0" r="5.6" fill="#fff" stroke="#3a2a2a" stroke-width="0.9"/>
<circle cx="469.0" cy="690.0" r="2.7" fill="#7a0a4a"/>
<circle cx="489.8" cy="690.0" r="5.6" fill="#f3a272"/>
<circle cx="502.7" cy="690.0" r="5.8" fill="#d20c3e"/>
<circle cx="502.7" cy="690.0" r="2.0" fill="#fbe0e4"/>
<text x="421.00" y="723.40" font-size="12.2" fill="#2b2b2b" stroke="#2b2b2b" stroke-width="0.12" textLength="79.60" lengthAdjust="spacingAndGlyphs">Gating strategy</text>
<defs><filter id="bl" x="-20%" y="-20%" width="140%" height="140%"><feGaussianBlur stdDeviation="1.4"/></filter><filter id="bl2" x="-30%" y="-30%" width="160%" height="160%"><feGaussianBlur stdDeviation="0.7"/></filter><clipPath id="blobclip"><path d="M421.5,817.2 C422.5,810 425,800 426,790 C426.5,780 425.5,770 425.3,762 C425.5,755 427,750 430,747 C433,744.5 438,742.5 446,741 C455,740 465,739 473,738.2 C480,737.3 485,735.8 490,735.5 C495,735.5 499,737.5 501,740 C503.5,744 503,752 502,760 C501,768 499.5,774 498.5,780 C497.8,788 497.5,795 498.5,802 C500,807 501.5,812 500.5,815.5 C499.5,817 497,817.2 495,817.2 Z"/></clipPath></defs>
<rect x="415.9" y="730.9" width="91.2" height="86.1" fill="#fff" stroke="#a0a0a0" stroke-width="0.9"/>
<line x1="415.9" y1="730.9" x2="415.9" y2="817" stroke="#606060" stroke-width="1"/>
<g clip-path="url(#blobclip)">
<rect x="415" y="730" width="95" height="90" fill="#1c2b9c"/>
<g filter="url(#bl)">
<path d="M427,817 C429,800 430,780 429,764 C430,757 434,753 444,751 C455,748 470,744.5 498,741 C500,748 499,756 497,764 L478,765 C470,766 462,768 456,772 C451,778 449,790 449.5,800 C450,808 452,813 455,817 Z" fill="#2746b8"/>
<path d="M485.5,764 L496,764 C494.5,776 493.5,790 494,805 L487,805 C488,790 487.5,776 485.5,764 Z" fill="#2542b4"/>
<path d="M430,816 C431.5,805 433,795 433,785 C433,775 430.5,765 431,756 L447,755 C446,765 444,775 444,786 C444,796 446,806 449,816 Z" fill="#2b86d6"/>
<path d="M433,806 C435.5,798 436.8,792 436.8,786 C436.8,778 432.5,770 432.5,760 L444,759 C443.5,768 441.8,778 441.8,786 C441.8,794 443,800 445,806 Z" fill="#33c4de"/>
<path d="M431,762 C434,756 442,753.5 452,753 C462,752.5 472,752 480,751.5 L480,762 C470,762.5 458,763 446,763.5 C439,764 434,764.5 431,765 Z" fill="#2fbcdc"/>
<path d="M452,747.5 C460,745 470,743.5 480,743 L480,748.5 C470,749 460,749.5 452,751 Z" fill="#2fb6dc"/>
<path d="M466,744 C472,743 477,742.5 480,742.3 L480,762 C475,762 470,762 466,762 Z" fill="#36c2a4" opacity="0.85"/>
<path d="M479,739.5 C487,738 494,738.5 498.5,741 C500,748 499,755 497,761 C492,762 485,762 479,761.5 Z" fill="#43b948"/>
<path d="M480,760 L498,760 L497,765 L481,765 Z" fill="#38be98"/>
<path d="M485.5,760 L499,760 C497,768 495,774 493.5,780 L491,780 C489.5,773 487.5,767 485.5,760 Z" fill="#34bfa0"/>
<ellipse cx="438" cy="809.5" rx="13.5" ry="8.5" fill="#2cc0d0"/>
<ellipse cx="438" cy="811" rx="10.5" ry="5.2" fill="#44b944"/>
<ellipse cx="489.3" cy="811.3" rx="8.5" ry="5.5" fill="#2cc0d0"/>
<ellipse cx="489.5" cy="812.3" rx="5.5" ry="3.3" fill="#44b944"/>
</g>
<path d="M451,745.5 C460,746.5 468,748 475,749.2 C468,750.5 460,751.2 451,752 Z" fill="#1c2b9c" filter="url(#bl2)"/>
<g filter="url(#bl2)">
<ellipse cx="489.3" cy="748.4" rx="6.3" ry="4.9" fill="#e2e426"/>
<ellipse cx="489.4" cy="748.5" rx="5.0" ry="3.7" fill="#ff8a00"/>
<ellipse cx="489.4" cy="748.6" rx="4.0" ry="2.8" fill="#ff1a00"/>
</g>
</g>
<path d="M462,817.5 C459,814 455,810 453,806 C451,801 450.5,796 451,792 C452,787 455,782 459,778 C461.5,775 463.5,772.5 465.5,771 C468,770 471,770.5 473,770 C475,769 477,768 480,767.8 C482.5,767.6 484,768.5 484.3,772 C484.8,780 484.8,792 483.5,801 C482.5,806 480,810 478.8,813 C478.3,815 478.3,816.5 478.5,817.5 Z" fill="#ffffff"/>
<g fill="#111"><rect x="456.8" y="806.7" width="1.15" height="1.15"/><rect x="474.7" y="771.7" width="1.15" height="1.15"/><rect x="464.4" y="779.6" width="1.15" height="1.15"/><rect x="457.7" y="784.0" width="1.15" height="1.15"/><rect x="476.2" y="814.1" width="1.15" height="1.15"/><rect x="468.3" y="815.1" width="1.15" height="1.15"/><rect x="456.7" y="805.1" width="1.15" height="1.15"/><rect x="463.0" y="775.5" width="1.15" height="1.15"/><rect x="472.4" y="779.0" width="1.15" height="1.15"/><rect x="455.6" y="800.0" width="1.15" height="1.15"/><rect x="455.1" y="799.9" width="1.15" height="1.15"/><rect x="463.0" y="785.8" width="1.15" height="1.15"/><rect x="461.7" y="810.0" width="1.15" height="1.15"/><rect x="465.0" y="798.2" width="1.15" height="1.15"/><rect x="454.9" y="803.4" width="1.15" height="1.15"/><rect x="470.1" y="771.7" width="1.15" height="1.15"/><rect x="466.9" y="773.7" width="1.15" height="1.15"/><rect x="455.9" y="796.7" width="1.15" height="1.15"/><rect x="464.9" y="772.6" width="1.15" height="1.15"/><rect x="481.7" y="802.5" width="1.15" height="1.15"/><rect x="483.0" y="785.4" width="1.15" height="1.15"/><rect x="454.4" y="798.4" width="1.15" height="1.15"/><rect x="478.1" y="790.8" width="1.15" height="1.15"/><rect x="454.1" y="804.8" width="1.15" height="1.15"/><rect x="457.0" y="782.5" width="1.15" height="1.15"/><rect x="458.6" y="801.5" width="1.15" height="1.15"/><rect x="469.9" y="778.6" width="1.15" height="1.15"/><rect x="469.2" y="815.2" width="1.15" height="1.15"/><rect x="480.7" y="772.4" width="1.15" height="1.15"/><rect x="454.6" y="806.6" width="1.15" height="1.15"/><rect x="452.9" y="791.5" width="1.15" height="1.15"/><rect x="460.8" y="781.7" width="1.15" height="1.15"/><rect x="458.5" y="801.8" width="1.15" height="1.15"/><rect x="459.1" y="779.0" width="1.15" height="1.15"/><rect x="458.1" y="803.1" width="1.15" height="1.15"/><rect x="478.9" y="806.6" width="1.15" height="1.15"/><rect x="456.6" y="786.7" width="1.15" height="1.15"/><rect x="479.5" y="772.3" width="1.15" height="1.15"/><rect x="459.1" y="807.0" width="1.15" height="1.15"/><rect x="457.8" y="806.5" width="1.15" height="1.15"/><rect x="462.0" y="813.7" width="1.15" height="1.15"/><rect x="470.6" y="793.6" width="1.15" height="1.15"/><rect x="454.5" y="802.1" width="1.15" height="1.15"/><rect x="468.9" y="783.1" width="1.15" height="1.15"/><rect x="454.2" y="806.1" width="1.15" height="1.15"/><rect x="472.0" y="787.0" width="1.15" height="1.15"/><rect x="462.0" y="782.3" width="1.15" height="1.15"/><rect x="456.6" y="794.8" width="1.15" height="1.15"/><rect x="465.5" y="811.6" width="1.15" height="1.15"/><rect x="461.3" y="810.9" width="1.15" height="1.15"/><rect x="460.6" y="803.7" width="1.15" height="1.15"/><rect x="479.0" y="812.0" width="1.15" height="1.15"/><rect x="458.2" y="801.9" width="1.15" height="1.15"/><rect x="462.4" y="775.8" width="1.15" height="1.15"/><rect x="477.3" y="815.6" width="1.15" height="1.15"/><rect x="458.9" y="789.2" width="1.15" height="1.15"/><rect x="452.1" y="794.1" width="1.15" height="1.15"/><rect x="455.0" y="803.5" width="1.15" height="1.15"/><rect x="452.2" y="792.1" width="1.15" height="1.15"/><rect x="467.2" y="782.5" width="1.15" height="1.15"/><rect x="467.6" y="779.8" width="1.15" height="1.15"/><rect x="457.1" y="792.2" width="1.15" height="1.15"/><rect x="453.7" y="798.5" width="1.15" height="1.15"/><rect x="455.9" y="784.3" width="1.15" height="1.15"/><rect x="467.2" y="772.9" width="1.15" height="1.15"/><rect x="458.4" y="791.5" width="1.15" height="1.15"/><rect x="455.5" y="794.8" width="1.15" height="1.15"/><rect x="460.0" y="804.0" width="1.15" height="1.15"/><rect x="458.7" y="804.9" width="1.15" height="1.15"/><rect x="465.5" y="772.8" width="1.15" height="1.15"/><rect x="471.6" y="790.1" width="1.15" height="1.15"/><rect x="453.9" y="795.4" width="1.15" height="1.15"/><rect x="465.3" y="774.3" width="1.15" height="1.15"/><rect x="480.4" y="775.4" width="1.15" height="1.15"/><rect x="464.0" y="811.3" width="1.15" height="1.15"/><rect x="420.5" y="796.2" width="1.15" height="1.15"/><rect x="420.7" y="796.9" width="1.15" height="1.15"/><rect x="419.6" y="801.8" width="1.15" height="1.15"/><rect x="422.9" y="801.1" width="1.15" height="1.15"/><rect x="423.1" y="801.8" width="1.15" height="1.15"/><rect x="419.5" y="807.3" width="1.15" height="1.15"/><rect x="423.3" y="793.9" width="1.15" height="1.15"/><rect x="418.6" y="800.4" width="1.15" height="1.15"/><rect x="421.5" y="801.9" width="1.15" height="1.15"/><rect x="505.4" y="797.4" width="1.15" height="1.15"/><rect x="504.8" y="772.7" width="1.15" height="1.15"/><rect x="503.9" y="803.1" width="1.15" height="1.15"/><rect x="502.3" y="773.4" width="1.15" height="1.15"/><rect x="504.6" y="807.8" width="1.15" height="1.15"/><rect x="432.5" y="743.8" width="1.15" height="1.15"/><rect x="433.2" y="745.2" width="1.15" height="1.15"/><rect x="445.6" y="740.6" width="1.15" height="1.15"/><rect x="474.0" y="737.4" width="1.15" height="1.15"/><rect x="502.8" y="742.0" width="1.15" height="1.15"/><rect x="502.6" y="745.5" width="1.15" height="1.15"/></g>
<path d="M416,740.4 H507.3" stroke="#2a2a2a" stroke-width="0.9" fill="none"/>
<path d="M416,764.2 H507.3" stroke="#2a2a2a" stroke-width="0.9" fill="none"/>
<path d="M451.5,740.4 V817" stroke="#2a2a2a" stroke-width="0.9" fill="none"/>
<path d="M477.9,740.4 V817" stroke="#2a2a2a" stroke-width="0.9" fill="none"/>
<path d="M477.9,790.4 H506.9" stroke="#2a2a2a" stroke-width="0.9" fill="none"/>
<path d="M507.0,740.4 V764.2" stroke="#2a2a2a" stroke-width="0.9" fill="none"/>
<text x="463.20" y="758.10" font-size="8.6" fill="#dff4ff" stroke="#dff4ff" stroke-width="0.12" text-anchor="middle">I</text>
<text x="489.10" y="758.10" font-size="8.6" fill="#dff4ff" stroke="#dff4ff" stroke-width="0.12" text-anchor="middle">II</text>
<text x="488.90" y="782.20" font-size="8.6" fill="#dff4ff" stroke="#dff4ff" stroke-width="0.12" text-anchor="middle">III</text>
<text x="488.90" y="808.70" font-size="8.6" fill="#dff4ff" stroke="#dff4ff" stroke-width="0.12" text-anchor="middle">IV</text>
<line x1="415.60" y1="746.20" x2="418.00" y2="746.20" stroke="#555" stroke-width="0.8"/>
<line x1="415.60" y1="762.00" x2="418.00" y2="762.00" stroke="#555" stroke-width="0.8"/>
<line x1="415.60" y1="778.60" x2="418.00" y2="778.60" stroke="#555" stroke-width="0.8"/>
<line x1="415.60" y1="800.00" x2="418.00" y2="800.00" stroke="#555" stroke-width="0.8"/>
<text x="409.60" y="748.60" font-size="9.2" fill="#2b2b2b" stroke="#2b2b2b" stroke-width="0.12" text-anchor="end" textLength="9.60" lengthAdjust="spacingAndGlyphs">10</text>
<text x="410.00" y="744.80" font-size="6.0" fill="#2b2b2b" stroke="#2b2b2b" stroke-width="0.12">5</text>
<text x="409.60" y="764.60" font-size="9.2" fill="#2b2b2b" stroke="#2b2b2b" stroke-width="0.12" text-anchor="end" textLength="9.60" lengthAdjust="spacingAndGlyphs">10</text>
<text x="410.00" y="760.80" font-size="6.0" fill="#2b2b2b" stroke="#2b2b2b" stroke-width="0.12">4</text>
<text x="409.60" y="781.80" font-size="9.2" fill="#2b2b2b" stroke="#2b2b2b" stroke-width="0.12" text-anchor="end" textLength="9.60" lengthAdjust="spacingAndGlyphs">10</text>
<text x="410.00" y="778.00" font-size="6.0" fill="#2b2b2b" stroke="#2b2b2b" stroke-width="0.12">3</text>
<text x="413.60" y="803.20" font-size="9.2" fill="#2b2b2b" stroke="#2b2b2b" stroke-width="0.12" text-anchor="end">0</text>
<text x="413.30" y="829.20" font-size="9.6" fill="#2b2b2b" stroke="#2b2b2b" stroke-width="0.12" textLength="14.60" lengthAdjust="spacingAndGlyphs">&#8722;10</text>
<text x="428.00" y="825.00" font-size="6.0" fill="#2b2b2b" stroke="#2b2b2b" stroke-width="0.12">3</text>
<text x="437.10" y="829.20" font-size="9.6" fill="#2b2b2b" stroke="#2b2b2b" stroke-width="0.12" text-anchor="middle">0</text>
<text x="445.60" y="829.20" font-size="9.6" fill="#2b2b2b" stroke="#2b2b2b" stroke-width="0.12" textLength="10.20" lengthAdjust="spacingAndGlyphs">10</text>
<text x="455.80" y="825.00" font-size="6.0" fill="#2b2b2b" stroke="#2b2b2b" stroke-width="0.12">3</text>
<text x="471.90" y="829.20" font-size="9.6" fill="#2b2b2b" stroke="#2b2b2b" stroke-width="0.12" textLength="10.20" lengthAdjust="spacingAndGlyphs">10</text>
<text x="482.10" y="825.00" font-size="6.0" fill="#2b2b2b" stroke="#2b2b2b" stroke-width="0.12">4</text>
<text x="493.70" y="829.20" font-size="9.6" fill="#2b2b2b" stroke="#2b2b2b" stroke-width="0.12" textLength="8.60" lengthAdjust="spacingAndGlyphs">10</text>
<text x="502.30" y="825.00" font-size="6.0" fill="#2b2b2b" stroke="#2b2b2b" stroke-width="0.12">5</text>
<line x1="396.10" y1="813.50" x2="396.10" y2="787.00" stroke="#111" stroke-width="1.3"/>
<polygon points="396.1,782.8 393.9,788.6 398.3,788.6" fill="#111"/>
<line x1="418.30" y1="835.30" x2="445.00" y2="835.30" stroke="#111" stroke-width="1.3"/>
<polygon points="449.2,835.3 443.6,833.1 443.6,837.5" fill="#111"/>
<text transform="translate(389.2,775.9) rotate(-90)" x="0" y="0" font-size="11.9" fill="#2b2b2b" stroke="#2b2b2b" stroke-width="0.12" text-anchor="middle" textLength="20.5" lengthAdjust="spacingAndGlyphs">CD71</text>
<text x="447.20" y="848.90" font-size="11.5" fill="#2b2b2b" stroke="#2b2b2b" stroke-width="0.12" textLength="27.40" lengthAdjust="spacingAndGlyphs">Ter119</text>
<rect x="0.5" y="0.5" width="519" height="908" fill="none" stroke="#2a2a2a" stroke-width="1"/>
</svg>
</body></html>
